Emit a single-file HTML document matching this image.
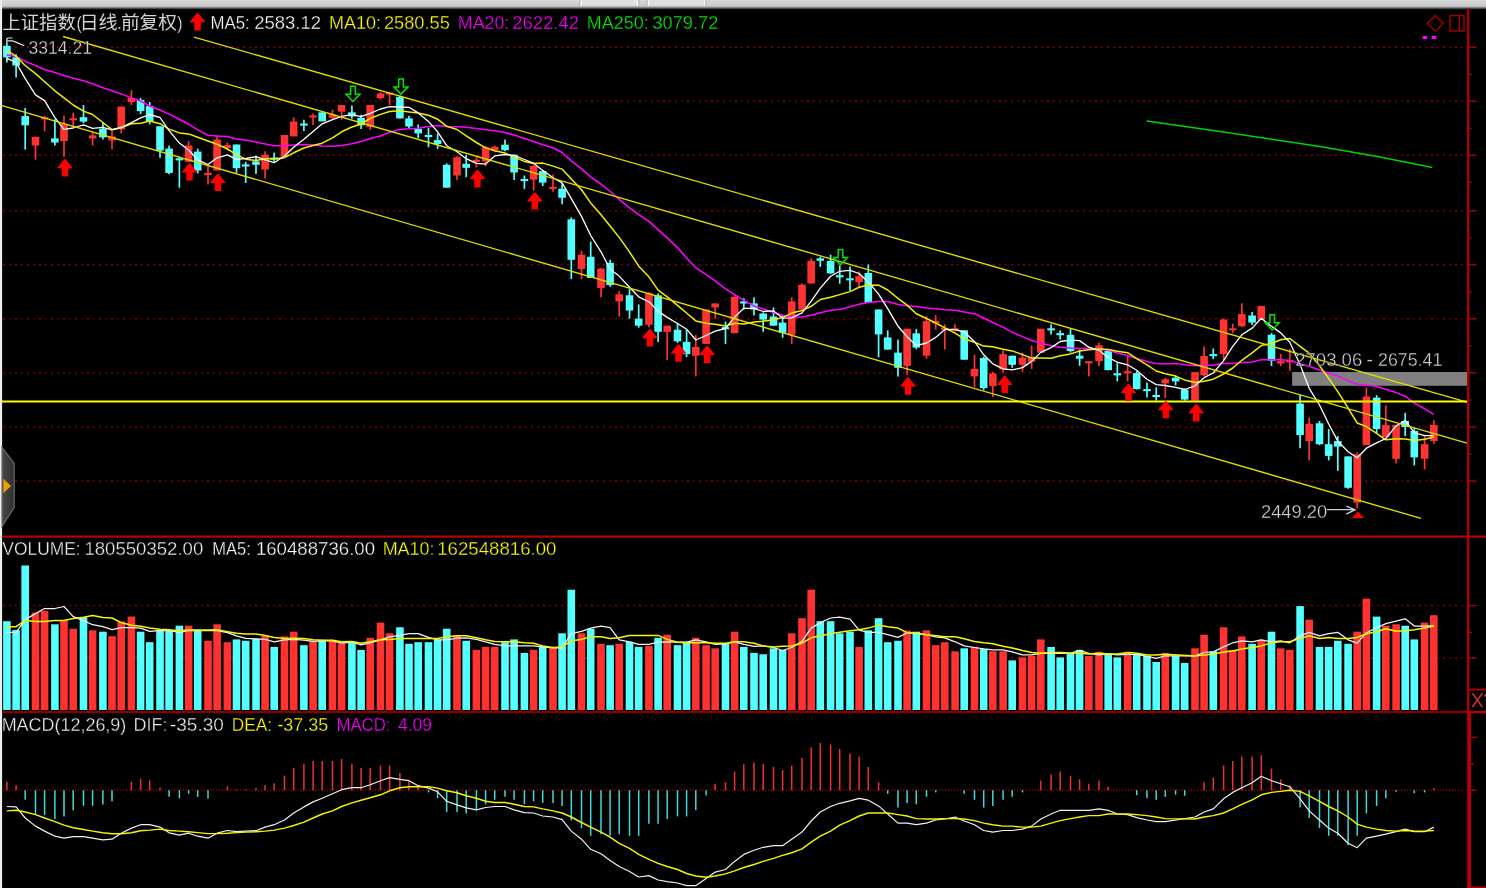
<!DOCTYPE html>
<html><head><meta charset="utf-8"><title>chart</title><style>html,body{margin:0;padding:0;background:#000;overflow:hidden}body{width:1486px;height:888px;position:relative;font-family:"Liberation Sans",sans-serif}</style></head><body>
<svg width="1486" height="888" viewBox="0 0 1486 888" style="display:block;position:absolute;left:0;top:0" font-family="Liberation Sans, sans-serif">
<rect width="1486" height="888" fill="#000"/>
<defs><linearGradient id="tg" x1="0" y1="0" x2="0" y2="1"><stop offset="0" stop-color="#d8d8d8"/><stop offset="0.5" stop-color="#cecece"/><stop offset="0.64" stop-color="#c0c0c0"/><stop offset="0.8" stop-color="#6a6a6a"/><stop offset="0.93" stop-color="#141414"/><stop offset="1" stop-color="#000"/></linearGradient><linearGradient id="tg2" x1="0" y1="0" x2="0" y2="1"><stop offset="0" stop-color="#cecece" stop-opacity="0"/><stop offset="0.25" stop-color="#c0c0c0"/><stop offset="0.58" stop-color="#6a6a6a"/><stop offset="0.85" stop-color="#141414"/><stop offset="1" stop-color="#000"/></linearGradient><linearGradient id="wg" x1="0" y1="0" x2="1" y2="0"><stop offset="0" stop-color="#4a4a4a"/><stop offset="1" stop-color="#2e2e2e"/></linearGradient></defs>
<rect x="0" y="0" width="1486" height="10" fill="url(#tg)"/>
<rect x="580.4" y="0" width="57.9" height="5.6" fill="#e0e0e0"/>
<rect x="579.1999999999999" y="0" width="1.2" height="5.8" fill="#b4b4b4"/><rect x="580.4" y="0" width="1.6" height="5.8" fill="#f6f6f6"/><rect x="636.6999999999999" y="0" width="1.6" height="5.8" fill="#f6f6f6"/><rect x="638.3" y="0" width="1.2" height="5.8" fill="#b8b8b8"/>
<rect x="647.7" y="0" width="57.8" height="5.6" fill="#e0e0e0"/>
<rect x="646.5" y="0" width="1.2" height="5.8" fill="#b4b4b4"/><rect x="647.7" y="0" width="1.6" height="5.8" fill="#f6f6f6"/><rect x="703.9" y="0" width="1.6" height="5.8" fill="#f6f6f6"/><rect x="705.5" y="0" width="1.2" height="5.8" fill="#b8b8b8"/>
<rect x="0" y="5.2" width="1486" height="4.8" fill="url(#tg2)"/>
<rect x="0" y="0" width="2.1" height="888" fill="#eeeeee"/>
<line x1="3.3" y1="47.2" x2="1464" y2="47.2" stroke="#b40000" stroke-width="1.5" stroke-dasharray="1.4 4.6"/>
<line x1="3.3" y1="101.2" x2="1464" y2="101.2" stroke="#b40000" stroke-width="1.5" stroke-dasharray="1.4 4.6"/>
<line x1="3.3" y1="155.3" x2="1464" y2="155.3" stroke="#b40000" stroke-width="1.5" stroke-dasharray="1.4 4.6"/>
<line x1="3.3" y1="210.8" x2="1464" y2="210.8" stroke="#b40000" stroke-width="1.5" stroke-dasharray="1.4 4.6"/>
<line x1="3.3" y1="264.8" x2="1464" y2="264.8" stroke="#b40000" stroke-width="1.5" stroke-dasharray="1.4 4.6"/>
<line x1="3.3" y1="318.8" x2="1464" y2="318.8" stroke="#b40000" stroke-width="1.5" stroke-dasharray="1.4 4.6"/>
<line x1="3.3" y1="372.9" x2="1464" y2="372.9" stroke="#b40000" stroke-width="1.5" stroke-dasharray="1.4 4.6"/>
<line x1="3.3" y1="427.0" x2="1464" y2="427.0" stroke="#b40000" stroke-width="1.5" stroke-dasharray="1.4 4.6"/>
<line x1="3.3" y1="481.0" x2="1464" y2="481.0" stroke="#b40000" stroke-width="1.5" stroke-dasharray="1.4 4.6"/>
<line x1="3.3" y1="605.5" x2="1464" y2="605.5" stroke="#b40000" stroke-width="1.5" stroke-dasharray="1.4 4.6"/>
<line x1="3.3" y1="658.0" x2="1464" y2="658.0" stroke="#b40000" stroke-width="1.5" stroke-dasharray="1.4 4.6"/>
<line x1="3" y1="790.2" x2="1464" y2="790.2" stroke="#b40000" stroke-width="1.3" stroke-dasharray="1.2 1.8"/>
<rect x="1292.1" y="372" width="175.2" height="13.8" fill="#808080"/>
<line x1="6.9" y1="42.8" x2="6.9" y2="62.4" stroke="#54ffff" stroke-width="1.7"/>
<rect x="3.1" y="45.8" width="7.6" height="11.6" fill="#54ffff"/>
<line x1="16.1" y1="54.3" x2="16.1" y2="77.6" stroke="#54ffff" stroke-width="1.7"/>
<rect x="12.3" y="57.4" width="7.6" height="8.1" fill="#54ffff"/>
<line x1="25.2" y1="108.0" x2="25.2" y2="149.6" stroke="#54ffff" stroke-width="1.7"/>
<rect x="21.4" y="116.1" width="7.6" height="9.2" fill="#54ffff"/>
<line x1="35.5" y1="136.8" x2="35.5" y2="159.7" stroke="#ff3232" stroke-width="1.7"/>
<rect x="31.7" y="136.8" width="7.6" height="8.7" fill="#ff3232"/>
<line x1="44.6" y1="116.1" x2="44.6" y2="131.4" stroke="#ff3232" stroke-width="1.7"/>
<rect x="40.8" y="117.2" width="7.6" height="2.1" fill="#ff3232"/>
<line x1="54.9" y1="119.2" x2="54.9" y2="145.5" stroke="#54ffff" stroke-width="1.7"/>
<rect x="51.1" y="138.4" width="7.6" height="4.1" fill="#54ffff"/>
<line x1="64.0" y1="115.7" x2="64.0" y2="156.7" stroke="#ff3232" stroke-width="1.7"/>
<rect x="60.2" y="123.9" width="7.6" height="17.2" fill="#ff3232"/>
<line x1="73.2" y1="112.7" x2="73.2" y2="126.3" stroke="#ff3232" stroke-width="1.7"/>
<rect x="69.4" y="118.2" width="7.6" height="2.1" fill="#ff3232"/>
<line x1="83.5" y1="105.0" x2="83.5" y2="123.2" stroke="#54ffff" stroke-width="1.7"/>
<rect x="79.7" y="117.2" width="7.6" height="4.4" fill="#54ffff"/>
<line x1="92.6" y1="132.4" x2="92.6" y2="145.5" stroke="#ff3232" stroke-width="1.7"/>
<rect x="88.8" y="135.4" width="7.6" height="3.0" fill="#ff3232"/>
<line x1="102.9" y1="122.2" x2="102.9" y2="139.5" stroke="#54ffff" stroke-width="1.7"/>
<rect x="99.1" y="128.7" width="7.6" height="8.7" fill="#54ffff"/>
<line x1="112.0" y1="130.3" x2="112.0" y2="149.6" stroke="#ff3232" stroke-width="1.7"/>
<rect x="108.2" y="136.4" width="7.6" height="4.1" fill="#ff3232"/>
<line x1="121.2" y1="106.6" x2="121.2" y2="133.4" stroke="#ff3232" stroke-width="1.7"/>
<rect x="117.4" y="106.6" width="7.6" height="22.7" fill="#ff3232"/>
<line x1="131.4" y1="90.2" x2="131.4" y2="105.0" stroke="#ff3232" stroke-width="1.7"/>
<rect x="127.6" y="97.9" width="7.6" height="4.1" fill="#ff3232"/>
<line x1="140.6" y1="97.9" x2="140.6" y2="114.1" stroke="#54ffff" stroke-width="1.7"/>
<rect x="136.8" y="99.9" width="7.6" height="11.2" fill="#54ffff"/>
<line x1="149.7" y1="102.0" x2="149.7" y2="124.3" stroke="#54ffff" stroke-width="1.7"/>
<rect x="145.9" y="106.0" width="7.6" height="15.2" fill="#54ffff"/>
<line x1="160.0" y1="126.3" x2="160.0" y2="157.7" stroke="#54ffff" stroke-width="1.7"/>
<rect x="156.2" y="126.3" width="7.6" height="24.3" fill="#54ffff"/>
<line x1="169.1" y1="145.5" x2="169.1" y2="174.3" stroke="#54ffff" stroke-width="1.7"/>
<rect x="165.3" y="148.6" width="7.6" height="24.3" fill="#54ffff"/>
<line x1="179.4" y1="156.7" x2="179.4" y2="187.7" stroke="#54ffff" stroke-width="1.7"/>
<rect x="175.6" y="158.3" width="7.6" height="2.1" fill="#54ffff"/>
<line x1="188.6" y1="141.1" x2="188.6" y2="161.8" stroke="#ff3232" stroke-width="1.7"/>
<rect x="184.8" y="145.5" width="7.6" height="16.3" fill="#ff3232"/>
<line x1="197.7" y1="148.6" x2="197.7" y2="173.5" stroke="#54ffff" stroke-width="1.7"/>
<rect x="193.9" y="151.6" width="7.6" height="18.9" fill="#54ffff"/>
<line x1="208.0" y1="164.8" x2="208.0" y2="184.5" stroke="#ff3232" stroke-width="1.7"/>
<rect x="204.2" y="172.9" width="7.6" height="2.1" fill="#ff3232"/>
<line x1="217.1" y1="135.4" x2="217.1" y2="170.5" stroke="#ff3232" stroke-width="1.7"/>
<rect x="213.3" y="139.5" width="7.6" height="31.0" fill="#ff3232"/>
<line x1="227.4" y1="142.5" x2="227.4" y2="149.6" stroke="#ff3232" stroke-width="1.7"/>
<rect x="223.6" y="145.1" width="7.6" height="2.9" fill="#ff3232"/>
<line x1="236.5" y1="144.5" x2="236.5" y2="172.9" stroke="#54ffff" stroke-width="1.7"/>
<rect x="232.7" y="144.5" width="7.6" height="23.7" fill="#54ffff"/>
<line x1="245.7" y1="161.8" x2="245.7" y2="183.0" stroke="#54ffff" stroke-width="1.7"/>
<rect x="241.9" y="164.4" width="7.6" height="2.1" fill="#54ffff"/>
<line x1="256.0" y1="155.7" x2="256.0" y2="173.9" stroke="#54ffff" stroke-width="1.7"/>
<rect x="252.2" y="161.4" width="7.6" height="3.4" fill="#54ffff"/>
<line x1="265.1" y1="151.2" x2="265.1" y2="178.6" stroke="#ff3232" stroke-width="1.7"/>
<rect x="261.3" y="154.7" width="7.6" height="14.8" fill="#ff3232"/>
<line x1="274.2" y1="152.6" x2="274.2" y2="161.8" stroke="#54ffff" stroke-width="1.7"/>
<rect x="270.4" y="157.6" width="7.6" height="2.1" fill="#54ffff"/>
<line x1="284.5" y1="135.0" x2="284.5" y2="156.7" stroke="#ff3232" stroke-width="1.7"/>
<rect x="280.7" y="135.0" width="7.6" height="21.7" fill="#ff3232"/>
<line x1="293.7" y1="117.2" x2="293.7" y2="136.4" stroke="#ff3232" stroke-width="1.7"/>
<rect x="289.9" y="121.6" width="7.6" height="14.8" fill="#ff3232"/>
<line x1="303.9" y1="119.8" x2="303.9" y2="130.9" stroke="#54ffff" stroke-width="1.7"/>
<rect x="300.1" y="123.5" width="7.6" height="2.1" fill="#54ffff"/>
<line x1="313.1" y1="113.7" x2="313.1" y2="124.9" stroke="#ff3232" stroke-width="1.7"/>
<rect x="309.3" y="115.4" width="7.6" height="2.1" fill="#ff3232"/>
<line x1="322.2" y1="112.3" x2="322.2" y2="121.4" stroke="#54ffff" stroke-width="1.7"/>
<rect x="318.4" y="112.3" width="7.6" height="9.1" fill="#54ffff"/>
<line x1="332.5" y1="109.7" x2="332.5" y2="118.8" stroke="#ff3232" stroke-width="1.7"/>
<rect x="328.7" y="114.7" width="7.6" height="3.1" fill="#ff3232"/>
<line x1="341.6" y1="105.0" x2="341.6" y2="119.8" stroke="#ff3232" stroke-width="1.7"/>
<rect x="337.8" y="105.0" width="7.6" height="6.7" fill="#ff3232"/>
<line x1="351.9" y1="105.6" x2="351.9" y2="118.8" stroke="#54ffff" stroke-width="1.7"/>
<rect x="348.1" y="112.3" width="7.6" height="4.1" fill="#54ffff"/>
<line x1="361.1" y1="114.7" x2="361.1" y2="128.9" stroke="#54ffff" stroke-width="1.7"/>
<rect x="357.3" y="117.8" width="7.6" height="7.5" fill="#54ffff"/>
<line x1="370.2" y1="105.0" x2="370.2" y2="129.9" stroke="#ff3232" stroke-width="1.7"/>
<rect x="366.4" y="105.0" width="7.6" height="21.9" fill="#ff3232"/>
<line x1="380.5" y1="92.4" x2="380.5" y2="99.5" stroke="#ff3232" stroke-width="1.7"/>
<rect x="376.7" y="93.4" width="7.6" height="4.7" fill="#ff3232"/>
<line x1="389.6" y1="92.4" x2="389.6" y2="105.0" stroke="#ff3232" stroke-width="1.7"/>
<rect x="385.8" y="92.5" width="7.6" height="2.1" fill="#ff3232"/>
<line x1="399.9" y1="95.5" x2="399.9" y2="118.4" stroke="#54ffff" stroke-width="1.7"/>
<rect x="396.1" y="96.9" width="7.6" height="21.5" fill="#54ffff"/>
<line x1="409.0" y1="115.7" x2="409.0" y2="127.9" stroke="#54ffff" stroke-width="1.7"/>
<rect x="405.2" y="118.4" width="7.6" height="8.1" fill="#54ffff"/>
<line x1="418.2" y1="124.5" x2="418.2" y2="138.0" stroke="#54ffff" stroke-width="1.7"/>
<rect x="414.4" y="128.9" width="7.6" height="4.5" fill="#54ffff"/>
<line x1="428.5" y1="127.9" x2="428.5" y2="147.2" stroke="#54ffff" stroke-width="1.7"/>
<rect x="424.7" y="135.0" width="7.6" height="2.1" fill="#54ffff"/>
<line x1="437.6" y1="133.4" x2="437.6" y2="148.8" stroke="#54ffff" stroke-width="1.7"/>
<rect x="433.8" y="140.1" width="7.6" height="4.0" fill="#54ffff"/>
<line x1="446.7" y1="163.4" x2="446.7" y2="187.7" stroke="#54ffff" stroke-width="1.7"/>
<rect x="442.9" y="164.8" width="7.6" height="22.9" fill="#54ffff"/>
<line x1="457.0" y1="156.3" x2="457.0" y2="180.0" stroke="#ff3232" stroke-width="1.7"/>
<rect x="453.2" y="157.3" width="7.6" height="18.2" fill="#ff3232"/>
<line x1="466.2" y1="154.9" x2="466.2" y2="177.2" stroke="#54ffff" stroke-width="1.7"/>
<rect x="462.4" y="163.8" width="7.6" height="4.0" fill="#54ffff"/>
<line x1="476.4" y1="157.3" x2="476.4" y2="167.4" stroke="#ff3232" stroke-width="1.7"/>
<rect x="472.6" y="159.8" width="7.6" height="2.1" fill="#ff3232"/>
<line x1="485.6" y1="146.1" x2="485.6" y2="166.4" stroke="#ff3232" stroke-width="1.7"/>
<rect x="481.8" y="147.2" width="7.6" height="14.2" fill="#ff3232"/>
<line x1="494.7" y1="145.5" x2="494.7" y2="152.2" stroke="#ff3232" stroke-width="1.7"/>
<rect x="490.9" y="146.8" width="7.6" height="3.4" fill="#ff3232"/>
<line x1="505.0" y1="139.5" x2="505.0" y2="151.2" stroke="#54ffff" stroke-width="1.7"/>
<rect x="501.2" y="144.7" width="7.6" height="5.5" fill="#54ffff"/>
<line x1="514.1" y1="154.7" x2="514.1" y2="180.0" stroke="#54ffff" stroke-width="1.7"/>
<rect x="510.3" y="154.7" width="7.6" height="17.8" fill="#54ffff"/>
<line x1="524.4" y1="175.5" x2="524.4" y2="189.1" stroke="#54ffff" stroke-width="1.7"/>
<rect x="520.6" y="179.0" width="7.6" height="2.1" fill="#54ffff"/>
<line x1="533.6" y1="165.0" x2="533.6" y2="190.7" stroke="#ff3232" stroke-width="1.7"/>
<rect x="529.8" y="166.0" width="7.6" height="13.6" fill="#ff3232"/>
<line x1="542.7" y1="171.1" x2="542.7" y2="186.1" stroke="#54ffff" stroke-width="1.7"/>
<rect x="538.9" y="171.1" width="7.6" height="11.5" fill="#54ffff"/>
<line x1="553.0" y1="174.5" x2="553.0" y2="191.8" stroke="#ff3232" stroke-width="1.7"/>
<rect x="549.2" y="186.8" width="7.6" height="2.1" fill="#ff3232"/>
<line x1="562.1" y1="183.6" x2="562.1" y2="204.3" stroke="#54ffff" stroke-width="1.7"/>
<rect x="558.3" y="188.7" width="7.6" height="9.1" fill="#54ffff"/>
<line x1="571.3" y1="217.4" x2="571.3" y2="279.1" stroke="#54ffff" stroke-width="1.7"/>
<rect x="567.5" y="219.3" width="7.6" height="40.5" fill="#54ffff"/>
<line x1="581.5" y1="250.7" x2="581.5" y2="279.1" stroke="#ff3232" stroke-width="1.7"/>
<rect x="577.7" y="254.7" width="7.6" height="14.2" fill="#ff3232"/>
<line x1="590.7" y1="241.6" x2="590.7" y2="278.0" stroke="#54ffff" stroke-width="1.7"/>
<rect x="586.9" y="256.8" width="7.6" height="21.2" fill="#54ffff"/>
<line x1="601.0" y1="268.5" x2="601.0" y2="297.3" stroke="#ff3232" stroke-width="1.7"/>
<rect x="597.2" y="268.5" width="7.6" height="19.7" fill="#ff3232"/>
<line x1="610.1" y1="259.8" x2="610.1" y2="286.8" stroke="#54ffff" stroke-width="1.7"/>
<rect x="606.3" y="262.8" width="7.6" height="22.3" fill="#54ffff"/>
<line x1="619.2" y1="291.2" x2="619.2" y2="316.6" stroke="#ff3232" stroke-width="1.7"/>
<rect x="615.4" y="294.3" width="7.6" height="7.1" fill="#ff3232"/>
<line x1="629.5" y1="289.2" x2="629.5" y2="318.6" stroke="#54ffff" stroke-width="1.7"/>
<rect x="625.7" y="295.3" width="7.6" height="15.2" fill="#54ffff"/>
<line x1="638.7" y1="304.4" x2="638.7" y2="327.7" stroke="#54ffff" stroke-width="1.7"/>
<rect x="634.9" y="318.6" width="7.6" height="7.1" fill="#54ffff"/>
<line x1="648.9" y1="292.2" x2="648.9" y2="327.3" stroke="#ff3232" stroke-width="1.7"/>
<rect x="645.1" y="293.2" width="7.6" height="31.5" fill="#ff3232"/>
<line x1="658.1" y1="293.2" x2="658.1" y2="341.9" stroke="#54ffff" stroke-width="1.7"/>
<rect x="654.3" y="295.3" width="7.6" height="36.5" fill="#54ffff"/>
<line x1="667.2" y1="325.7" x2="667.2" y2="360.1" stroke="#ff3232" stroke-width="1.7"/>
<rect x="663.4" y="325.7" width="7.6" height="6.1" fill="#ff3232"/>
<line x1="677.5" y1="323.6" x2="677.5" y2="342.9" stroke="#54ffff" stroke-width="1.7"/>
<rect x="673.7" y="329.7" width="7.6" height="11.6" fill="#54ffff"/>
<line x1="686.6" y1="329.7" x2="686.6" y2="357.1" stroke="#54ffff" stroke-width="1.7"/>
<rect x="682.8" y="341.9" width="7.6" height="12.2" fill="#54ffff"/>
<line x1="695.8" y1="334.8" x2="695.8" y2="376.4" stroke="#ff3232" stroke-width="1.7"/>
<rect x="692.0" y="347.0" width="7.6" height="8.7" fill="#ff3232"/>
<line x1="706.1" y1="309.5" x2="706.1" y2="343.9" stroke="#ff3232" stroke-width="1.7"/>
<rect x="702.3" y="309.5" width="7.6" height="34.4" fill="#ff3232"/>
<line x1="715.2" y1="303.4" x2="715.2" y2="318.6" stroke="#ff3232" stroke-width="1.7"/>
<rect x="711.4" y="303.4" width="7.6" height="4.0" fill="#ff3232"/>
<line x1="725.5" y1="321.6" x2="725.5" y2="343.9" stroke="#54ffff" stroke-width="1.7"/>
<rect x="721.7" y="327.1" width="7.6" height="2.1" fill="#54ffff"/>
<line x1="734.6" y1="295.3" x2="734.6" y2="333.2" stroke="#ff3232" stroke-width="1.7"/>
<rect x="730.8" y="296.9" width="7.6" height="36.3" fill="#ff3232"/>
<line x1="743.8" y1="298.3" x2="743.8" y2="309.5" stroke="#54ffff" stroke-width="1.7"/>
<rect x="740.0" y="301.4" width="7.6" height="2.1" fill="#54ffff"/>
<line x1="754.0" y1="297.3" x2="754.0" y2="315.5" stroke="#54ffff" stroke-width="1.7"/>
<rect x="750.2" y="303.4" width="7.6" height="6.1" fill="#54ffff"/>
<line x1="763.2" y1="312.5" x2="763.2" y2="331.8" stroke="#54ffff" stroke-width="1.7"/>
<rect x="759.4" y="313.5" width="7.6" height="6.1" fill="#54ffff"/>
<line x1="773.5" y1="307.4" x2="773.5" y2="325.7" stroke="#54ffff" stroke-width="1.7"/>
<rect x="769.7" y="316.6" width="7.6" height="9.1" fill="#54ffff"/>
<line x1="782.6" y1="315.5" x2="782.6" y2="337.8" stroke="#54ffff" stroke-width="1.7"/>
<rect x="778.8" y="322.6" width="7.6" height="10.2" fill="#54ffff"/>
<line x1="791.7" y1="297.3" x2="791.7" y2="343.9" stroke="#ff3232" stroke-width="1.7"/>
<rect x="787.9" y="301.4" width="7.6" height="33.4" fill="#ff3232"/>
<line x1="802.0" y1="283.5" x2="802.0" y2="309.5" stroke="#ff3232" stroke-width="1.7"/>
<rect x="798.2" y="284.7" width="7.6" height="24.8" fill="#ff3232"/>
<line x1="811.2" y1="258.4" x2="811.2" y2="283.5" stroke="#ff3232" stroke-width="1.7"/>
<rect x="807.4" y="260.8" width="7.6" height="22.7" fill="#ff3232"/>
<line x1="820.3" y1="256.8" x2="820.3" y2="266.9" stroke="#54ffff" stroke-width="1.7"/>
<rect x="816.5" y="258.4" width="7.6" height="2.4" fill="#54ffff"/>
<line x1="830.6" y1="254.7" x2="830.6" y2="274.0" stroke="#54ffff" stroke-width="1.7"/>
<rect x="826.8" y="260.8" width="7.6" height="12.6" fill="#54ffff"/>
<line x1="839.7" y1="265.5" x2="839.7" y2="283.7" stroke="#54ffff" stroke-width="1.7"/>
<rect x="835.9" y="275.2" width="7.6" height="2.1" fill="#54ffff"/>
<line x1="850.0" y1="266.5" x2="850.0" y2="290.8" stroke="#54ffff" stroke-width="1.7"/>
<rect x="846.2" y="278.3" width="7.6" height="2.1" fill="#54ffff"/>
<line x1="859.1" y1="271.6" x2="859.1" y2="287.8" stroke="#ff3232" stroke-width="1.7"/>
<rect x="855.3" y="276.2" width="7.6" height="6.1" fill="#ff3232"/>
<line x1="868.3" y1="264.5" x2="868.3" y2="303.0" stroke="#54ffff" stroke-width="1.7"/>
<rect x="864.5" y="273.0" width="7.6" height="30.0" fill="#54ffff"/>
<line x1="878.6" y1="309.5" x2="878.6" y2="357.3" stroke="#54ffff" stroke-width="1.7"/>
<rect x="874.8" y="309.5" width="7.6" height="24.9" fill="#54ffff"/>
<line x1="887.7" y1="330.3" x2="887.7" y2="349.6" stroke="#54ffff" stroke-width="1.7"/>
<rect x="883.9" y="337.4" width="7.6" height="12.2" fill="#54ffff"/>
<line x1="898.0" y1="339.5" x2="898.0" y2="376.4" stroke="#54ffff" stroke-width="1.7"/>
<rect x="894.2" y="352.6" width="7.6" height="15.2" fill="#54ffff"/>
<line x1="907.1" y1="328.7" x2="907.1" y2="374.9" stroke="#ff3232" stroke-width="1.7"/>
<rect x="903.3" y="328.7" width="7.6" height="37.1" fill="#ff3232"/>
<line x1="916.3" y1="328.9" x2="916.3" y2="349.2" stroke="#54ffff" stroke-width="1.7"/>
<rect x="912.5" y="333.4" width="7.6" height="14.2" fill="#54ffff"/>
<line x1="926.5" y1="316.1" x2="926.5" y2="358.7" stroke="#ff3232" stroke-width="1.7"/>
<rect x="922.7" y="321.2" width="7.6" height="34.5" fill="#ff3232"/>
<line x1="935.7" y1="315.1" x2="935.7" y2="329.7" stroke="#ff3232" stroke-width="1.7"/>
<rect x="931.9" y="321.2" width="7.6" height="2.1" fill="#ff3232"/>
<line x1="944.8" y1="324.3" x2="944.8" y2="349.6" stroke="#ff3232" stroke-width="1.7"/>
<rect x="941.0" y="327.8" width="7.6" height="2.1" fill="#ff3232"/>
<line x1="955.1" y1="324.3" x2="955.1" y2="331.4" stroke="#ff3232" stroke-width="1.7"/>
<rect x="951.3" y="328.3" width="7.6" height="2.1" fill="#ff3232"/>
<line x1="964.2" y1="330.3" x2="964.2" y2="359.7" stroke="#54ffff" stroke-width="1.7"/>
<rect x="960.4" y="330.3" width="7.6" height="29.4" fill="#54ffff"/>
<line x1="974.5" y1="354.7" x2="974.5" y2="387.1" stroke="#ff3232" stroke-width="1.7"/>
<rect x="970.7" y="368.9" width="7.6" height="7.5" fill="#ff3232"/>
<line x1="983.7" y1="356.7" x2="983.7" y2="390.1" stroke="#54ffff" stroke-width="1.7"/>
<rect x="979.9" y="358.1" width="7.6" height="30.0" fill="#54ffff"/>
<line x1="992.8" y1="371.9" x2="992.8" y2="397.2" stroke="#ff3232" stroke-width="1.7"/>
<rect x="989.0" y="373.5" width="7.6" height="12.6" fill="#ff3232"/>
<line x1="1003.1" y1="350.6" x2="1003.1" y2="372.9" stroke="#ff3232" stroke-width="1.7"/>
<rect x="999.3" y="354.1" width="7.6" height="15.4" fill="#ff3232"/>
<line x1="1012.2" y1="355.7" x2="1012.2" y2="367.8" stroke="#54ffff" stroke-width="1.7"/>
<rect x="1008.4" y="355.7" width="7.6" height="9.1" fill="#54ffff"/>
<line x1="1022.5" y1="352.6" x2="1022.5" y2="371.9" stroke="#ff3232" stroke-width="1.7"/>
<rect x="1018.7" y="357.7" width="7.6" height="7.1" fill="#ff3232"/>
<line x1="1031.6" y1="345.5" x2="1031.6" y2="368.9" stroke="#ff3232" stroke-width="1.7"/>
<rect x="1027.8" y="356.7" width="7.6" height="5.1" fill="#ff3232"/>
<line x1="1040.8" y1="328.7" x2="1040.8" y2="352.6" stroke="#ff3232" stroke-width="1.7"/>
<rect x="1037.0" y="328.7" width="7.6" height="23.9" fill="#ff3232"/>
<line x1="1051.1" y1="324.3" x2="1051.1" y2="334.4" stroke="#54ffff" stroke-width="1.7"/>
<rect x="1047.3" y="328.3" width="7.6" height="2.1" fill="#54ffff"/>
<line x1="1060.2" y1="330.3" x2="1060.2" y2="339.5" stroke="#54ffff" stroke-width="1.7"/>
<rect x="1056.4" y="333.1" width="7.6" height="2.1" fill="#54ffff"/>
<line x1="1070.5" y1="328.7" x2="1070.5" y2="352.6" stroke="#54ffff" stroke-width="1.7"/>
<rect x="1066.7" y="334.8" width="7.6" height="16.2" fill="#54ffff"/>
<line x1="1079.6" y1="349.6" x2="1079.6" y2="365.8" stroke="#54ffff" stroke-width="1.7"/>
<rect x="1075.8" y="355.7" width="7.6" height="3.0" fill="#54ffff"/>
<line x1="1088.8" y1="361.4" x2="1088.8" y2="376.4" stroke="#ff3232" stroke-width="1.7"/>
<rect x="1085.0" y="361.2" width="7.6" height="2.1" fill="#ff3232"/>
<line x1="1099.0" y1="342.8" x2="1099.0" y2="366.1" stroke="#ff3232" stroke-width="1.7"/>
<rect x="1095.2" y="345.3" width="7.6" height="15.8" fill="#ff3232"/>
<line x1="1108.2" y1="348.9" x2="1108.2" y2="370.2" stroke="#54ffff" stroke-width="1.7"/>
<rect x="1104.4" y="350.9" width="7.6" height="19.3" fill="#54ffff"/>
<line x1="1117.3" y1="363.1" x2="1117.3" y2="381.4" stroke="#54ffff" stroke-width="1.7"/>
<rect x="1113.5" y="373.3" width="7.6" height="2.1" fill="#54ffff"/>
<line x1="1127.6" y1="356.0" x2="1127.6" y2="381.4" stroke="#ff3232" stroke-width="1.7"/>
<rect x="1123.8" y="371.2" width="7.6" height="2.1" fill="#ff3232"/>
<line x1="1136.7" y1="371.2" x2="1136.7" y2="389.5" stroke="#54ffff" stroke-width="1.7"/>
<rect x="1132.9" y="373.2" width="7.6" height="15.9" fill="#54ffff"/>
<line x1="1147.0" y1="382.4" x2="1147.0" y2="397.6" stroke="#54ffff" stroke-width="1.7"/>
<rect x="1143.2" y="389.1" width="7.6" height="2.1" fill="#54ffff"/>
<line x1="1156.2" y1="387.4" x2="1156.2" y2="400.6" stroke="#54ffff" stroke-width="1.7"/>
<rect x="1152.4" y="395.0" width="7.6" height="2.1" fill="#54ffff"/>
<line x1="1165.3" y1="377.7" x2="1165.3" y2="398.0" stroke="#ff3232" stroke-width="1.7"/>
<rect x="1161.5" y="379.3" width="7.6" height="4.1" fill="#ff3232"/>
<line x1="1175.6" y1="375.3" x2="1175.6" y2="385.4" stroke="#54ffff" stroke-width="1.7"/>
<rect x="1171.8" y="377.7" width="7.6" height="3.7" fill="#54ffff"/>
<line x1="1184.7" y1="388.4" x2="1184.7" y2="400.6" stroke="#54ffff" stroke-width="1.7"/>
<rect x="1180.9" y="389.5" width="7.6" height="10.1" fill="#54ffff"/>
<line x1="1195.0" y1="372.2" x2="1195.0" y2="400.6" stroke="#ff3232" stroke-width="1.7"/>
<rect x="1191.2" y="372.2" width="7.6" height="28.4" fill="#ff3232"/>
<line x1="1204.1" y1="346.5" x2="1204.1" y2="376.3" stroke="#ff3232" stroke-width="1.7"/>
<rect x="1200.3" y="356.0" width="7.6" height="19.3" fill="#ff3232"/>
<line x1="1213.3" y1="348.5" x2="1213.3" y2="359.1" stroke="#54ffff" stroke-width="1.7"/>
<rect x="1209.5" y="354.1" width="7.6" height="2.1" fill="#54ffff"/>
<line x1="1223.6" y1="318.5" x2="1223.6" y2="360.1" stroke="#ff3232" stroke-width="1.7"/>
<rect x="1219.8" y="319.5" width="7.6" height="34.5" fill="#ff3232"/>
<line x1="1232.7" y1="323.6" x2="1232.7" y2="333.1" stroke="#ff3232" stroke-width="1.7"/>
<rect x="1228.9" y="328.3" width="7.6" height="2.1" fill="#ff3232"/>
<line x1="1241.8" y1="303.3" x2="1241.8" y2="327.0" stroke="#ff3232" stroke-width="1.7"/>
<rect x="1238.0" y="314.1" width="7.6" height="12.1" fill="#ff3232"/>
<line x1="1252.1" y1="312.0" x2="1252.1" y2="325.0" stroke="#54ffff" stroke-width="1.7"/>
<rect x="1248.3" y="315.5" width="7.6" height="7.1" fill="#54ffff"/>
<line x1="1261.3" y1="305.9" x2="1261.3" y2="319.5" stroke="#ff3232" stroke-width="1.7"/>
<rect x="1257.5" y="305.9" width="7.6" height="13.6" fill="#ff3232"/>
<line x1="1271.5" y1="333.1" x2="1271.5" y2="366.1" stroke="#54ffff" stroke-width="1.7"/>
<rect x="1267.7" y="334.7" width="7.6" height="26.0" fill="#54ffff"/>
<line x1="1280.7" y1="354.0" x2="1280.7" y2="366.1" stroke="#ff3232" stroke-width="1.7"/>
<rect x="1276.9" y="361.1" width="7.6" height="2.4" fill="#ff3232"/>
<line x1="1289.8" y1="348.9" x2="1289.8" y2="370.8" stroke="#ff3232" stroke-width="1.7"/>
<rect x="1286.0" y="360.1" width="7.6" height="2.1" fill="#ff3232"/>
<line x1="1300.1" y1="394.5" x2="1300.1" y2="448.2" stroke="#54ffff" stroke-width="1.7"/>
<rect x="1296.3" y="403.6" width="7.6" height="31.5" fill="#54ffff"/>
<line x1="1309.2" y1="417.4" x2="1309.2" y2="460.4" stroke="#ff3232" stroke-width="1.7"/>
<rect x="1305.4" y="423.9" width="7.6" height="17.2" fill="#ff3232"/>
<line x1="1319.5" y1="420.9" x2="1319.5" y2="445.2" stroke="#54ffff" stroke-width="1.7"/>
<rect x="1315.7" y="423.3" width="7.6" height="20.9" fill="#54ffff"/>
<line x1="1328.7" y1="429.0" x2="1328.7" y2="460.4" stroke="#54ffff" stroke-width="1.7"/>
<rect x="1324.9" y="444.2" width="7.6" height="11.7" fill="#54ffff"/>
<line x1="1337.8" y1="436.1" x2="1337.8" y2="470.9" stroke="#54ffff" stroke-width="1.7"/>
<rect x="1334.0" y="441.1" width="7.6" height="5.5" fill="#54ffff"/>
<line x1="1348.1" y1="456.4" x2="1348.1" y2="488.8" stroke="#54ffff" stroke-width="1.7"/>
<rect x="1344.3" y="456.4" width="7.6" height="31.4" fill="#54ffff"/>
<line x1="1357.2" y1="452.3" x2="1357.2" y2="508.6" stroke="#ff3232" stroke-width="1.7"/>
<rect x="1353.4" y="454.3" width="7.6" height="48.3" fill="#ff3232"/>
<line x1="1366.4" y1="387.4" x2="1366.4" y2="445.2" stroke="#ff3232" stroke-width="1.7"/>
<rect x="1362.6" y="396.6" width="7.6" height="48.6" fill="#ff3232"/>
<line x1="1376.6" y1="395.1" x2="1376.6" y2="433.0" stroke="#54ffff" stroke-width="1.7"/>
<rect x="1372.8" y="397.6" width="7.6" height="31.4" fill="#54ffff"/>
<line x1="1385.8" y1="405.3" x2="1385.8" y2="437.1" stroke="#ff3232" stroke-width="1.7"/>
<rect x="1382.0" y="424.9" width="7.6" height="12.2" fill="#ff3232"/>
<line x1="1396.1" y1="424.9" x2="1396.1" y2="463.4" stroke="#ff3232" stroke-width="1.7"/>
<rect x="1392.3" y="424.9" width="7.6" height="33.9" fill="#ff3232"/>
<line x1="1405.2" y1="412.8" x2="1405.2" y2="436.1" stroke="#54ffff" stroke-width="1.7"/>
<rect x="1401.4" y="420.9" width="7.6" height="6.1" fill="#54ffff"/>
<line x1="1414.3" y1="428.0" x2="1414.3" y2="465.5" stroke="#54ffff" stroke-width="1.7"/>
<rect x="1410.5" y="431.0" width="7.6" height="26.4" fill="#54ffff"/>
<line x1="1424.6" y1="435.1" x2="1424.6" y2="469.5" stroke="#ff3232" stroke-width="1.7"/>
<rect x="1420.8" y="444.2" width="7.6" height="14.6" fill="#ff3232"/>
<line x1="1433.8" y1="420.3" x2="1433.8" y2="443.8" stroke="#ff3232" stroke-width="1.7"/>
<rect x="1430.0" y="424.9" width="7.6" height="16.2" fill="#ff3232"/>
<polyline fill="none" stroke="#ff00ff" stroke-width="1.55" stroke-linejoin="round" points="6.9,54.9 16.1,56.4 25.2,61.4 35.5,65.5 44.6,69.5 54.9,72.6 64.0,75.6 73.2,78.2 83.5,80.7 92.6,83.7 102.9,87.8 112.0,90.8 121.2,93.9 131.4,97.9 140.6,101.0 149.7,106.0 160.0,110.0 169.1,114.1 179.4,119.2 188.6,124.2 197.7,129.9 208.0,135.3 217.1,136.0 227.4,136.4 236.5,138.9 245.7,140.1 256.0,142.1 265.1,143.9 274.2,145.8 284.5,145.8 293.7,145.0 303.9,144.5 313.1,144.9 322.2,146.1 332.5,146.3 341.6,145.5 351.9,143.8 361.1,141.4 370.2,138.6 380.5,136.0 389.6,132.2 399.9,129.4 409.0,128.8 418.2,128.2 428.5,126.6 437.6,125.5 446.7,126.6 457.0,126.8 466.2,127.2 476.4,128.4 485.6,129.7 494.7,130.8 505.0,132.5 514.1,135.1 524.4,138.4 533.6,141.4 542.7,144.7 553.0,147.8 562.1,152.5 571.3,160.8 581.5,168.9 590.7,176.9 601.0,184.0 610.1,191.5 619.2,199.4 629.5,207.8 638.7,214.7 648.9,221.4 658.1,229.6 667.2,237.9 677.5,247.6 686.6,258.0 695.8,267.8 706.1,274.7 715.2,280.8 725.5,288.9 734.6,294.7 743.8,300.4 754.0,306.0 763.2,309.0 773.5,312.6 782.6,315.3 791.7,317.0 802.0,316.9 811.2,315.3 820.3,312.8 830.6,310.2 839.7,309.4 850.0,306.8 859.1,304.3 868.3,302.4 878.6,301.4 887.7,301.5 898.0,304.4 907.1,305.7 916.3,306.6 926.5,307.9 935.7,308.8 944.8,309.7 955.1,310.2 964.2,311.9 974.5,313.7 983.7,318.0 992.8,322.5 1003.1,327.1 1012.2,332.3 1022.5,336.6 1031.6,340.5 1040.8,343.0 1051.1,345.7 1060.2,347.2 1070.5,348.1 1079.6,348.5 1088.8,348.2 1099.0,349.1 1108.2,350.2 1117.3,352.9 1127.6,355.4 1136.7,358.4 1147.0,361.5 1156.2,363.4 1165.3,363.9 1175.6,363.5 1184.7,364.8 1195.0,365.8 1204.1,365.3 1213.3,365.2 1223.6,363.3 1232.7,363.4 1241.8,362.6 1252.1,362.0 1261.3,359.7 1271.5,359.8 1280.7,359.8 1289.8,360.5 1300.1,363.8 1309.2,366.2 1319.5,369.9 1328.7,373.2 1337.8,376.0 1348.1,380.6 1357.2,384.3 1366.4,385.1 1376.6,386.5 1385.8,389.2 1396.1,392.6 1405.2,396.2 1414.3,403.1 1424.6,408.8 1433.8,414.4"/>
<polyline fill="none" stroke="#f0f000" stroke-width="1.5" stroke-linejoin="round" points="6.9,50.3 16.1,56.4 25.2,65.5 35.5,73.6 44.6,81.7 54.9,90.8 64.0,97.9 73.2,105.0 83.5,111.1 92.6,114.5 102.9,122.5 112.0,129.6 121.2,127.7 131.4,123.8 140.6,123.2 149.7,121.0 160.0,123.7 169.1,129.1 179.4,132.9 188.6,133.9 197.7,137.3 208.0,141.0 217.1,144.3 227.4,149.0 236.5,154.7 245.7,159.2 256.0,160.6 265.1,158.8 274.2,158.8 284.5,157.7 293.7,152.8 303.9,148.0 313.1,145.6 322.2,143.2 332.5,137.9 341.6,131.8 351.9,127.0 361.1,124.0 370.2,118.5 380.5,114.4 389.6,111.5 399.9,110.8 409.0,111.9 418.2,113.1 428.5,115.3 437.6,119.2 446.7,126.3 457.0,129.5 466.2,135.8 476.4,142.5 485.6,147.9 494.7,150.8 505.0,153.1 514.1,157.1 524.4,161.4 533.6,163.6 542.7,163.1 553.0,166.1 562.1,169.1 571.3,179.1 581.5,189.8 590.7,202.9 601.0,214.8 610.1,226.0 619.2,237.4 629.5,251.9 638.7,266.2 648.9,276.8 658.1,290.2 667.2,296.8 677.5,305.4 686.6,313.0 695.8,320.9 706.1,323.3 715.2,324.2 725.5,326.0 734.6,323.2 743.8,324.1 754.0,321.9 763.2,321.3 773.5,319.7 782.6,317.6 791.7,313.1 802.0,310.6 811.2,306.3 820.3,299.5 830.6,297.2 839.7,294.6 850.0,291.6 859.1,287.3 868.3,285.0 878.6,285.2 887.7,290.0 898.0,298.3 907.1,305.1 916.3,313.8 926.5,318.5 935.7,323.0 944.8,327.9 955.1,333.1 964.2,338.8 974.5,342.2 983.7,346.1 992.8,346.7 1003.1,349.2 1012.2,350.9 1022.5,354.6 1031.6,358.1 1040.8,358.1 1051.1,358.2 1060.2,355.7 1070.5,353.9 1079.6,351.0 1088.8,349.8 1099.0,348.9 1108.2,349.5 1117.3,351.2 1127.6,352.7 1136.7,358.7 1147.0,364.8 1156.2,371.0 1165.3,373.8 1175.6,376.1 1184.7,379.9 1195.0,382.6 1204.1,381.2 1213.3,379.2 1223.6,374.0 1232.7,368.0 1241.8,360.3 1252.1,352.9 1261.3,345.6 1271.5,343.5 1280.7,339.7 1289.8,338.5 1300.1,346.4 1309.2,353.2 1319.5,365.7 1328.7,378.4 1337.8,391.7 1348.1,408.2 1357.2,423.0 1366.4,426.6 1376.6,433.4 1385.8,439.8 1396.1,438.8 1405.2,439.1 1414.3,440.4 1424.6,439.3 1433.8,437.1"/>
<polyline fill="none" stroke="#ffffff" stroke-width="1.3" stroke-linejoin="round" points="6.9,58.4 16.1,62.4 25.2,78.6 35.5,94.9 44.6,100.6 54.9,117.6 64.0,129.3 73.2,128.0 83.5,124.9 92.6,128.4 102.9,127.4 112.0,129.9 121.2,127.5 131.4,122.7 140.6,117.9 149.7,114.6 160.0,117.5 169.1,130.7 179.4,143.1 188.6,150.0 197.7,159.9 208.0,164.5 217.1,157.8 227.4,154.8 236.5,159.4 245.7,158.5 256.0,156.7 265.1,159.8 274.2,162.7 284.5,156.0 293.7,147.2 303.9,139.2 313.1,131.5 322.2,123.8 332.5,119.7 341.6,116.4 351.9,114.7 361.1,116.6 370.2,113.3 380.5,109.0 389.6,106.6 399.9,107.0 409.0,107.3 418.2,112.9 428.5,121.6 437.6,131.8 446.7,145.7 457.0,151.8 466.2,158.7 476.4,163.4 485.6,164.1 494.7,155.9 505.0,154.5 514.1,155.4 524.4,159.5 533.6,163.2 542.7,170.4 553.0,177.8 562.1,182.9 571.3,198.7 581.5,216.4 590.7,235.5 601.0,251.8 610.1,269.2 619.2,276.1 629.5,287.3 638.7,296.8 648.9,301.8 658.1,311.1 667.2,317.4 677.5,323.5 686.6,329.2 695.8,340.0 706.1,335.5 715.2,331.1 725.5,328.5 734.6,317.1 743.8,308.3 754.0,308.3 763.2,311.5 773.5,310.9 782.6,318.1 791.7,317.8 802.0,312.8 811.2,301.1 820.3,288.1 830.6,276.2 839.7,271.3 850.0,270.4 859.1,273.5 868.3,281.9 878.6,294.1 887.7,308.6 898.0,326.2 907.1,336.7 916.3,345.6 926.5,343.0 935.7,337.4 944.8,329.5 955.1,329.6 964.2,332.0 974.5,341.5 983.7,354.8 992.8,363.8 1003.1,368.9 1012.2,369.9 1022.5,367.6 1031.6,361.4 1040.8,352.4 1051.1,347.6 1060.2,341.5 1070.5,340.2 1079.6,340.6 1088.8,347.2 1099.0,350.3 1108.2,357.4 1117.3,362.2 1127.6,364.8 1136.7,370.3 1147.0,379.3 1156.2,384.6 1165.3,385.5 1175.6,387.4 1184.7,389.5 1195.0,385.8 1204.1,377.7 1213.3,373.0 1223.6,360.6 1232.7,346.4 1241.8,334.8 1252.1,328.1 1261.3,318.2 1271.5,326.4 1280.7,332.9 1289.8,342.2 1300.1,364.7 1309.2,388.3 1319.5,405.0 1328.7,424.0 1337.8,441.1 1348.1,451.7 1357.2,457.8 1366.4,448.2 1376.6,442.9 1385.8,438.5 1396.1,425.9 1405.2,420.5 1414.3,432.6 1424.6,435.7 1433.8,435.7"/>
<polyline fill="none" stroke="#00d400" stroke-width="1.5" stroke-linejoin="round" points="1146.5,120.9 1220.0,131.6 1320.0,146.4 1380.0,157.0 1432.3,167.4"/>
<line x1="63.1" y1="36.5" x2="1467" y2="443.2" stroke="#dede00" stroke-width="1.35"/>
<line x1="194" y1="37.1" x2="1467" y2="402.2" stroke="#dede00" stroke-width="1.35"/>
<line x1="2" y1="105.6" x2="1421" y2="518.4" stroke="#dede00" stroke-width="1.35"/>
<line x1="2" y1="401.5" x2="1467.5" y2="401.5" stroke="#ffff00" stroke-width="2.0"/>
<rect x="3.1" y="621.2" width="7.6" height="88.8" fill="#54ffff"/>
<rect x="12.3" y="630.1" width="7.6" height="79.9" fill="#54ffff"/>
<rect x="21.4" y="565.5" width="7.6" height="144.5" fill="#54ffff"/>
<rect x="31.7" y="612.5" width="7.6" height="97.5" fill="#ff3232"/>
<rect x="40.8" y="610.9" width="7.6" height="99.1" fill="#ff3232"/>
<rect x="51.1" y="624.3" width="7.6" height="85.7" fill="#54ffff"/>
<rect x="60.2" y="620.6" width="7.6" height="89.4" fill="#ff3232"/>
<rect x="69.4" y="628.7" width="7.6" height="81.3" fill="#ff3232"/>
<rect x="79.7" y="617.2" width="7.6" height="92.8" fill="#54ffff"/>
<rect x="88.8" y="630.3" width="7.6" height="79.7" fill="#ff3232"/>
<rect x="99.1" y="631.7" width="7.6" height="78.3" fill="#54ffff"/>
<rect x="108.2" y="636.2" width="7.6" height="73.8" fill="#ff3232"/>
<rect x="117.4" y="621.6" width="7.6" height="88.4" fill="#ff3232"/>
<rect x="127.6" y="616.6" width="7.6" height="93.4" fill="#ff3232"/>
<rect x="136.8" y="631.7" width="7.6" height="78.3" fill="#54ffff"/>
<rect x="145.9" y="642.2" width="7.6" height="67.8" fill="#54ffff"/>
<rect x="156.2" y="629.7" width="7.6" height="80.3" fill="#54ffff"/>
<rect x="165.3" y="630.7" width="7.6" height="79.3" fill="#54ffff"/>
<rect x="175.6" y="625.7" width="7.6" height="84.3" fill="#54ffff"/>
<rect x="184.8" y="625.7" width="7.6" height="84.3" fill="#ff3232"/>
<rect x="193.9" y="629.7" width="7.6" height="80.3" fill="#54ffff"/>
<rect x="204.2" y="640.8" width="7.6" height="69.2" fill="#ff3232"/>
<rect x="213.3" y="624.3" width="7.6" height="85.7" fill="#ff3232"/>
<rect x="223.6" y="642.2" width="7.6" height="67.8" fill="#ff3232"/>
<rect x="232.7" y="639.4" width="7.6" height="70.6" fill="#54ffff"/>
<rect x="241.9" y="640.8" width="7.6" height="69.2" fill="#54ffff"/>
<rect x="252.2" y="638.8" width="7.6" height="71.2" fill="#54ffff"/>
<rect x="261.3" y="635.8" width="7.6" height="74.2" fill="#ff3232"/>
<rect x="270.4" y="646.9" width="7.6" height="63.1" fill="#54ffff"/>
<rect x="280.7" y="636.4" width="7.6" height="73.6" fill="#ff3232"/>
<rect x="289.9" y="631.7" width="7.6" height="78.3" fill="#ff3232"/>
<rect x="300.1" y="645.2" width="7.6" height="64.8" fill="#54ffff"/>
<rect x="309.3" y="640.8" width="7.6" height="69.2" fill="#ff3232"/>
<rect x="318.4" y="639.8" width="7.6" height="70.2" fill="#54ffff"/>
<rect x="328.7" y="639.8" width="7.6" height="70.2" fill="#ff3232"/>
<rect x="337.8" y="643.2" width="7.6" height="66.8" fill="#ff3232"/>
<rect x="348.1" y="641.8" width="7.6" height="68.2" fill="#54ffff"/>
<rect x="357.3" y="649.9" width="7.6" height="60.1" fill="#54ffff"/>
<rect x="366.4" y="637.8" width="7.6" height="72.2" fill="#ff3232"/>
<rect x="376.7" y="622.6" width="7.6" height="87.4" fill="#ff3232"/>
<rect x="385.8" y="633.3" width="7.6" height="76.7" fill="#ff3232"/>
<rect x="396.1" y="627.3" width="7.6" height="82.7" fill="#54ffff"/>
<rect x="405.2" y="643.8" width="7.6" height="66.2" fill="#54ffff"/>
<rect x="414.4" y="642.2" width="7.6" height="67.8" fill="#54ffff"/>
<rect x="424.7" y="642.2" width="7.6" height="67.8" fill="#54ffff"/>
<rect x="433.8" y="639.8" width="7.6" height="70.2" fill="#54ffff"/>
<rect x="442.9" y="628.7" width="7.6" height="81.3" fill="#54ffff"/>
<rect x="453.2" y="635.4" width="7.6" height="74.6" fill="#ff3232"/>
<rect x="462.4" y="640.8" width="7.6" height="69.2" fill="#54ffff"/>
<rect x="472.6" y="649.9" width="7.6" height="60.1" fill="#ff3232"/>
<rect x="481.8" y="646.9" width="7.6" height="63.1" fill="#ff3232"/>
<rect x="490.9" y="646.9" width="7.6" height="63.1" fill="#ff3232"/>
<rect x="501.2" y="642.2" width="7.6" height="67.8" fill="#54ffff"/>
<rect x="510.3" y="639.4" width="7.6" height="70.6" fill="#54ffff"/>
<rect x="520.6" y="652.9" width="7.6" height="57.1" fill="#54ffff"/>
<rect x="529.8" y="649.9" width="7.6" height="60.1" fill="#ff3232"/>
<rect x="538.9" y="645.9" width="7.6" height="64.1" fill="#54ffff"/>
<rect x="549.2" y="647.9" width="7.6" height="62.1" fill="#ff3232"/>
<rect x="558.3" y="633.3" width="7.6" height="76.7" fill="#54ffff"/>
<rect x="567.5" y="589.7" width="7.6" height="120.3" fill="#54ffff"/>
<rect x="577.7" y="633.3" width="7.6" height="76.7" fill="#ff3232"/>
<rect x="586.9" y="628.7" width="7.6" height="81.3" fill="#54ffff"/>
<rect x="597.2" y="643.8" width="7.6" height="66.2" fill="#ff3232"/>
<rect x="606.3" y="645.2" width="7.6" height="64.8" fill="#54ffff"/>
<rect x="615.4" y="643.8" width="7.6" height="66.2" fill="#ff3232"/>
<rect x="625.7" y="641.8" width="7.6" height="68.2" fill="#54ffff"/>
<rect x="634.9" y="646.9" width="7.6" height="63.1" fill="#54ffff"/>
<rect x="645.1" y="645.9" width="7.6" height="64.1" fill="#ff3232"/>
<rect x="654.3" y="637.8" width="7.6" height="72.2" fill="#54ffff"/>
<rect x="663.4" y="634.7" width="7.6" height="75.3" fill="#ff3232"/>
<rect x="673.7" y="645.2" width="7.6" height="64.8" fill="#54ffff"/>
<rect x="682.8" y="641.8" width="7.6" height="68.2" fill="#54ffff"/>
<rect x="692.0" y="637.8" width="7.6" height="72.2" fill="#ff3232"/>
<rect x="702.3" y="645.2" width="7.6" height="64.8" fill="#ff3232"/>
<rect x="711.4" y="648.3" width="7.6" height="61.7" fill="#ff3232"/>
<rect x="721.7" y="643.8" width="7.6" height="66.2" fill="#54ffff"/>
<rect x="730.8" y="631.7" width="7.6" height="78.3" fill="#ff3232"/>
<rect x="740.0" y="646.9" width="7.6" height="63.1" fill="#54ffff"/>
<rect x="750.2" y="652.9" width="7.6" height="57.1" fill="#54ffff"/>
<rect x="759.4" y="654.3" width="7.6" height="55.7" fill="#54ffff"/>
<rect x="769.7" y="648.3" width="7.6" height="61.7" fill="#54ffff"/>
<rect x="778.8" y="649.9" width="7.6" height="60.1" fill="#54ffff"/>
<rect x="787.9" y="633.3" width="7.6" height="76.7" fill="#ff3232"/>
<rect x="798.2" y="618.2" width="7.6" height="91.8" fill="#ff3232"/>
<rect x="807.4" y="589.7" width="7.6" height="120.3" fill="#ff3232"/>
<rect x="816.5" y="621.2" width="7.6" height="88.8" fill="#54ffff"/>
<rect x="826.8" y="621.2" width="7.6" height="88.8" fill="#54ffff"/>
<rect x="835.9" y="633.3" width="7.6" height="76.7" fill="#54ffff"/>
<rect x="846.2" y="631.7" width="7.6" height="78.3" fill="#54ffff"/>
<rect x="855.3" y="646.9" width="7.6" height="63.1" fill="#ff3232"/>
<rect x="864.5" y="630.3" width="7.6" height="79.7" fill="#54ffff"/>
<rect x="874.8" y="618.2" width="7.6" height="91.8" fill="#54ffff"/>
<rect x="883.9" y="642.2" width="7.6" height="67.8" fill="#54ffff"/>
<rect x="894.2" y="640.8" width="7.6" height="69.2" fill="#54ffff"/>
<rect x="903.3" y="630.7" width="7.6" height="79.3" fill="#ff3232"/>
<rect x="912.5" y="631.7" width="7.6" height="78.3" fill="#54ffff"/>
<rect x="922.7" y="630.3" width="7.6" height="79.7" fill="#ff3232"/>
<rect x="931.9" y="645.2" width="7.6" height="64.8" fill="#ff3232"/>
<rect x="941.0" y="642.2" width="7.6" height="67.8" fill="#ff3232"/>
<rect x="951.3" y="651.3" width="7.6" height="58.7" fill="#ff3232"/>
<rect x="960.4" y="648.3" width="7.6" height="61.7" fill="#54ffff"/>
<rect x="970.7" y="646.9" width="7.6" height="63.1" fill="#ff3232"/>
<rect x="979.9" y="648.9" width="7.6" height="61.1" fill="#54ffff"/>
<rect x="989.0" y="651.3" width="7.6" height="58.7" fill="#ff3232"/>
<rect x="999.3" y="651.3" width="7.6" height="58.7" fill="#ff3232"/>
<rect x="1008.4" y="660.4" width="7.6" height="49.6" fill="#54ffff"/>
<rect x="1018.7" y="657.4" width="7.6" height="52.6" fill="#ff3232"/>
<rect x="1027.8" y="655.9" width="7.6" height="54.1" fill="#ff3232"/>
<rect x="1037.0" y="639.4" width="7.6" height="70.6" fill="#ff3232"/>
<rect x="1047.3" y="646.9" width="7.6" height="63.1" fill="#54ffff"/>
<rect x="1056.4" y="657.4" width="7.6" height="52.6" fill="#54ffff"/>
<rect x="1066.7" y="652.9" width="7.6" height="57.1" fill="#54ffff"/>
<rect x="1075.8" y="649.9" width="7.6" height="60.1" fill="#54ffff"/>
<rect x="1085.0" y="655.9" width="7.6" height="54.1" fill="#ff3232"/>
<rect x="1095.2" y="651.9" width="7.6" height="58.1" fill="#ff3232"/>
<rect x="1104.4" y="653.9" width="7.6" height="56.1" fill="#54ffff"/>
<rect x="1113.5" y="657.4" width="7.6" height="52.6" fill="#54ffff"/>
<rect x="1123.8" y="651.9" width="7.6" height="58.1" fill="#ff3232"/>
<rect x="1132.9" y="654.3" width="7.6" height="55.7" fill="#54ffff"/>
<rect x="1143.2" y="655.9" width="7.6" height="54.1" fill="#54ffff"/>
<rect x="1152.4" y="662.0" width="7.6" height="48.0" fill="#54ffff"/>
<rect x="1161.5" y="652.9" width="7.6" height="57.1" fill="#ff3232"/>
<rect x="1171.8" y="655.9" width="7.6" height="54.1" fill="#54ffff"/>
<rect x="1180.9" y="663.0" width="7.6" height="47.0" fill="#54ffff"/>
<rect x="1191.2" y="648.3" width="7.6" height="61.7" fill="#ff3232"/>
<rect x="1200.3" y="634.7" width="7.6" height="75.3" fill="#ff3232"/>
<rect x="1209.5" y="651.3" width="7.6" height="58.7" fill="#54ffff"/>
<rect x="1219.8" y="627.3" width="7.6" height="82.7" fill="#ff3232"/>
<rect x="1228.9" y="649.9" width="7.6" height="60.1" fill="#ff3232"/>
<rect x="1238.0" y="636.4" width="7.6" height="73.6" fill="#ff3232"/>
<rect x="1248.3" y="643.8" width="7.6" height="66.2" fill="#54ffff"/>
<rect x="1257.5" y="639.8" width="7.6" height="70.2" fill="#ff3232"/>
<rect x="1267.7" y="631.7" width="7.6" height="78.3" fill="#54ffff"/>
<rect x="1276.9" y="648.3" width="7.6" height="61.7" fill="#ff3232"/>
<rect x="1286.0" y="649.9" width="7.6" height="60.1" fill="#ff3232"/>
<rect x="1296.3" y="606.1" width="7.6" height="103.9" fill="#54ffff"/>
<rect x="1305.4" y="619.6" width="7.6" height="90.4" fill="#ff3232"/>
<rect x="1315.7" y="646.9" width="7.6" height="63.1" fill="#54ffff"/>
<rect x="1324.9" y="646.9" width="7.6" height="63.1" fill="#54ffff"/>
<rect x="1334.0" y="640.8" width="7.6" height="69.2" fill="#54ffff"/>
<rect x="1344.3" y="643.8" width="7.6" height="66.2" fill="#54ffff"/>
<rect x="1353.4" y="631.7" width="7.6" height="78.3" fill="#ff3232"/>
<rect x="1362.6" y="598.6" width="7.6" height="111.4" fill="#ff3232"/>
<rect x="1372.8" y="616.6" width="7.6" height="93.4" fill="#54ffff"/>
<rect x="1382.0" y="625.7" width="7.6" height="84.3" fill="#ff3232"/>
<rect x="1392.3" y="624.3" width="7.6" height="85.7" fill="#ff3232"/>
<rect x="1401.4" y="625.7" width="7.6" height="84.3" fill="#54ffff"/>
<rect x="1410.5" y="639.4" width="7.6" height="70.6" fill="#54ffff"/>
<rect x="1420.8" y="622.6" width="7.6" height="87.4" fill="#ff3232"/>
<rect x="1430.0" y="615.2" width="7.6" height="94.8" fill="#ff3232"/>
<polyline fill="none" stroke="#f4f4f4" stroke-width="1.25" stroke-linejoin="round" points="6.9,632.3 16.1,632.3 25.2,619.6 35.5,613.6 44.6,608.5 54.9,608.5 64.0,606.5 73.2,616.6 83.5,620.6 92.6,624.7 102.9,626.7 112.0,629.7 121.2,627.7 131.4,627.7 140.6,628.1 149.7,631.3 160.0,630.7 169.1,630.7 179.4,632.3 188.6,630.7 197.7,630.7 208.0,630.7 217.1,630.7 227.4,632.7 236.5,635.8 245.7,638.4 256.0,638.8 265.1,639.4 274.2,641.8 284.5,639.8 293.7,639.4 303.9,640.2 313.1,641.4 322.2,640.8 332.5,640.8 341.6,643.2 351.9,642.2 361.1,644.8 370.2,642.8 380.5,639.8 389.6,636.8 399.9,635.4 409.0,633.7 418.2,633.7 428.5,637.4 437.6,639.8 446.7,639.8 457.0,638.2 466.2,637.8 476.4,639.4 485.6,641.8 494.7,644.4 505.0,645.9 514.1,645.9 524.4,645.9 533.6,645.9 542.7,646.9 553.0,647.9 562.1,647.9 571.3,633.7 581.5,631.3 590.7,628.1 601.0,626.1 610.1,627.7 619.2,639.8 629.5,641.8 638.7,644.4 648.9,644.4 658.1,642.2 667.2,641.8 677.5,642.2 686.6,642.2 695.8,639.8 706.1,641.8 715.2,644.4 725.5,643.8 734.6,641.8 743.8,644.4 754.0,646.3 763.2,645.9 773.5,647.5 782.6,650.5 791.7,647.5 802.0,641.4 811.2,628.1 820.3,622.6 830.6,618.0 839.7,617.2 850.0,619.2 859.1,630.1 868.3,632.3 878.6,632.3 887.7,634.7 898.0,637.4 907.1,632.7 916.3,633.7 926.5,634.7 935.7,636.8 944.8,637.8 955.1,641.8 964.2,645.9 974.5,647.5 983.7,648.9 992.8,649.9 1003.1,649.9 1012.2,651.9 1022.5,654.9 1031.6,654.9 1040.8,653.3 1051.1,653.3 1060.2,653.3 1070.5,653.3 1079.6,650.3 1088.8,653.3 1099.0,654.9 1108.2,653.9 1117.3,654.9 1127.6,654.3 1136.7,654.3 1147.0,656.4 1156.2,658.4 1165.3,655.9 1195.0,655.9 1204.1,652.5 1213.3,651.9 1223.6,646.9 1232.7,642.8 1241.8,640.8 1252.1,641.8 1261.3,639.8 1271.5,641.8 1280.7,640.8 1289.8,642.8 1300.1,635.8 1309.2,632.3 1319.5,635.8 1328.7,633.7 1337.8,632.3 1348.1,639.8 1357.2,643.2 1366.4,632.7 1376.6,627.7 1385.8,623.6 1396.1,621.2 1405.2,618.8 1414.3,626.1 1424.6,626.1 1433.8,625.7"/>
<polyline fill="none" stroke="#f8f800" stroke-width="1.5" stroke-linejoin="round" points="6.9,626.7 16.1,626.7 25.2,620.6 35.5,621.6 44.6,621.6 54.9,620.6 64.0,620.6 73.2,618.6 83.5,617.2 92.6,615.6 102.9,617.6 112.0,618.0 121.2,622.6 131.4,625.3 140.6,626.3 149.7,628.1 160.0,629.3 169.1,629.7 179.4,630.7 188.6,630.1 197.7,630.1 208.0,630.1 217.1,629.7 227.4,631.7 236.5,633.3 245.7,634.1 256.0,634.1 265.1,635.4 274.2,637.4 284.5,638.4 293.7,638.2 303.9,638.4 313.1,639.8 322.2,640.2 332.5,640.2 341.6,641.8 351.9,641.4 361.1,643.2 370.2,641.8 380.5,639.8 389.6,639.4 399.9,638.4 409.0,638.4 418.2,638.4 428.5,638.4 437.6,638.4 446.7,636.8 457.0,635.8 466.2,635.8 476.4,637.8 485.6,639.8 494.7,641.4 505.0,641.8 514.1,641.8 524.4,642.8 533.6,643.2 542.7,645.9 553.0,647.5 562.1,646.9 571.3,640.8 581.5,639.4 590.7,636.8 601.0,636.8 610.1,638.4 619.2,637.8 629.5,635.4 638.7,635.4 648.9,635.4 658.1,635.4 667.2,639.4 677.5,642.2 686.6,642.8 695.8,642.8 706.1,642.8 715.2,643.2 725.5,643.2 734.6,641.8 743.8,641.8 754.0,643.2 763.2,645.9 773.5,646.9 782.6,646.3 791.7,645.9 802.0,643.2 811.2,637.8 820.3,635.8 830.6,633.7 839.7,632.3 850.0,630.7 859.1,629.7 868.3,628.1 878.6,625.1 887.7,626.7 898.0,628.1 907.1,632.7 916.3,633.3 926.5,634.7 935.7,635.8 944.8,636.8 955.1,636.8 964.2,638.8 974.5,641.4 983.7,642.8 992.8,643.8 1003.1,646.3 1012.2,647.9 1022.5,650.5 1031.6,652.5 1040.8,653.3 1051.1,652.5 1060.2,652.5 1070.5,652.9 1079.6,653.3 1088.8,653.9 1099.0,653.3 1108.2,653.9 1117.3,653.9 1127.6,652.5 1136.7,653.3 1147.0,654.9 1156.2,654.9 1165.3,654.3 1195.0,655.9 1204.1,654.9 1213.3,653.9 1223.6,651.9 1232.7,650.9 1241.8,648.9 1252.1,647.5 1261.3,645.9 1271.5,642.8 1280.7,641.8 1289.8,641.8 1300.1,638.4 1309.2,635.8 1319.5,638.4 1328.7,637.4 1337.8,638.4 1348.1,638.4 1357.2,637.4 1366.4,633.7 1376.6,631.7 1385.8,628.7 1396.1,631.3 1405.2,630.7 1414.3,629.7 1424.6,628.1 1433.8,626.1"/>
<line x1="6.9" y1="790.2" x2="6.9" y2="781.7" stroke="#f03030" stroke-width="1.5"/>
<line x1="16.1" y1="790.2" x2="16.1" y2="785.1" stroke="#f03030" stroke-width="1.5"/>
<line x1="25.2" y1="790.2" x2="25.2" y2="799.8" stroke="#40d8d8" stroke-width="1.5"/>
<line x1="35.5" y1="790.2" x2="35.5" y2="814.0" stroke="#40d8d8" stroke-width="1.5"/>
<line x1="44.6" y1="790.2" x2="44.6" y2="815.0" stroke="#40d8d8" stroke-width="1.5"/>
<line x1="54.9" y1="790.2" x2="54.9" y2="819.0" stroke="#40d8d8" stroke-width="1.5"/>
<line x1="64.0" y1="790.2" x2="64.0" y2="816.4" stroke="#40d8d8" stroke-width="1.5"/>
<line x1="73.2" y1="790.2" x2="73.2" y2="810.3" stroke="#40d8d8" stroke-width="1.5"/>
<line x1="83.5" y1="790.2" x2="83.5" y2="805.9" stroke="#40d8d8" stroke-width="1.5"/>
<line x1="92.6" y1="790.2" x2="92.6" y2="805.9" stroke="#40d8d8" stroke-width="1.5"/>
<line x1="102.9" y1="790.2" x2="102.9" y2="804.5" stroke="#40d8d8" stroke-width="1.5"/>
<line x1="112.0" y1="790.2" x2="112.0" y2="801.5" stroke="#40d8d8" stroke-width="1.5"/>
<line x1="131.4" y1="790.2" x2="131.4" y2="781.7" stroke="#f03030" stroke-width="1.5"/>
<line x1="140.6" y1="790.2" x2="140.6" y2="778.6" stroke="#f03030" stroke-width="1.5"/>
<line x1="149.7" y1="790.2" x2="149.7" y2="780.3" stroke="#f03030" stroke-width="1.5"/>
<line x1="160.0" y1="790.2" x2="160.0" y2="787.7" stroke="#f03030" stroke-width="1.5"/>
<line x1="169.1" y1="790.2" x2="169.1" y2="796.8" stroke="#40d8d8" stroke-width="1.5"/>
<line x1="179.4" y1="790.2" x2="179.4" y2="798.4" stroke="#40d8d8" stroke-width="1.5"/>
<line x1="188.6" y1="790.2" x2="188.6" y2="793.8" stroke="#40d8d8" stroke-width="1.5"/>
<line x1="197.7" y1="790.2" x2="197.7" y2="796.8" stroke="#40d8d8" stroke-width="1.5"/>
<line x1="208.0" y1="790.2" x2="208.0" y2="798.4" stroke="#40d8d8" stroke-width="1.5"/>
<line x1="227.4" y1="790.2" x2="227.4" y2="786.3" stroke="#f03030" stroke-width="1.5"/>
<line x1="236.5" y1="790.2" x2="236.5" y2="789.3" stroke="#f03030" stroke-width="1.5"/>
<line x1="245.7" y1="790.2" x2="245.7" y2="789.3" stroke="#f03030" stroke-width="1.5"/>
<line x1="256.0" y1="790.2" x2="256.0" y2="788.1" stroke="#f03030" stroke-width="1.5"/>
<line x1="265.1" y1="790.2" x2="265.1" y2="785.1" stroke="#f03030" stroke-width="1.5"/>
<line x1="274.2" y1="790.2" x2="274.2" y2="783.3" stroke="#f03030" stroke-width="1.5"/>
<line x1="284.5" y1="790.2" x2="284.5" y2="775.6" stroke="#f03030" stroke-width="1.5"/>
<line x1="293.7" y1="790.2" x2="293.7" y2="768.1" stroke="#f03030" stroke-width="1.5"/>
<line x1="303.9" y1="790.2" x2="303.9" y2="763.9" stroke="#f03030" stroke-width="1.5"/>
<line x1="313.1" y1="790.2" x2="313.1" y2="760.9" stroke="#f03030" stroke-width="1.5"/>
<line x1="322.2" y1="790.2" x2="322.2" y2="760.9" stroke="#f03030" stroke-width="1.5"/>
<line x1="332.5" y1="790.2" x2="332.5" y2="760.9" stroke="#f03030" stroke-width="1.5"/>
<line x1="341.6" y1="790.2" x2="341.6" y2="759.1" stroke="#f03030" stroke-width="1.5"/>
<line x1="351.9" y1="790.2" x2="351.9" y2="763.9" stroke="#f03030" stroke-width="1.5"/>
<line x1="361.1" y1="790.2" x2="361.1" y2="768.1" stroke="#f03030" stroke-width="1.5"/>
<line x1="370.2" y1="790.2" x2="370.2" y2="768.1" stroke="#f03030" stroke-width="1.5"/>
<line x1="380.5" y1="790.2" x2="380.5" y2="765.5" stroke="#f03030" stroke-width="1.5"/>
<line x1="389.6" y1="790.2" x2="389.6" y2="765.5" stroke="#f03030" stroke-width="1.5"/>
<line x1="399.9" y1="790.2" x2="399.9" y2="773.0" stroke="#f03030" stroke-width="1.5"/>
<line x1="409.0" y1="790.2" x2="409.0" y2="780.3" stroke="#f03030" stroke-width="1.5"/>
<line x1="418.2" y1="790.2" x2="418.2" y2="786.7" stroke="#f03030" stroke-width="1.5"/>
<line x1="428.5" y1="790.2" x2="428.5" y2="792.4" stroke="#40d8d8" stroke-width="1.5"/>
<line x1="437.6" y1="790.2" x2="437.6" y2="798.2" stroke="#40d8d8" stroke-width="1.5"/>
<line x1="446.7" y1="790.2" x2="446.7" y2="812.0" stroke="#40d8d8" stroke-width="1.5"/>
<line x1="457.0" y1="790.2" x2="457.0" y2="812.0" stroke="#40d8d8" stroke-width="1.5"/>
<line x1="466.2" y1="790.2" x2="466.2" y2="813.4" stroke="#40d8d8" stroke-width="1.5"/>
<line x1="476.4" y1="790.2" x2="476.4" y2="810.3" stroke="#40d8d8" stroke-width="1.5"/>
<line x1="485.6" y1="790.2" x2="485.6" y2="804.3" stroke="#40d8d8" stroke-width="1.5"/>
<line x1="494.7" y1="790.2" x2="494.7" y2="799.8" stroke="#40d8d8" stroke-width="1.5"/>
<line x1="505.0" y1="790.2" x2="505.0" y2="796.8" stroke="#40d8d8" stroke-width="1.5"/>
<line x1="514.1" y1="790.2" x2="514.1" y2="799.8" stroke="#40d8d8" stroke-width="1.5"/>
<line x1="524.4" y1="790.2" x2="524.4" y2="804.3" stroke="#40d8d8" stroke-width="1.5"/>
<line x1="533.6" y1="790.2" x2="533.6" y2="801.3" stroke="#40d8d8" stroke-width="1.5"/>
<line x1="542.7" y1="790.2" x2="542.7" y2="802.9" stroke="#40d8d8" stroke-width="1.5"/>
<line x1="553.0" y1="790.2" x2="553.0" y2="802.9" stroke="#40d8d8" stroke-width="1.5"/>
<line x1="562.1" y1="790.2" x2="562.1" y2="805.9" stroke="#40d8d8" stroke-width="1.5"/>
<line x1="571.3" y1="790.2" x2="571.3" y2="820.6" stroke="#40d8d8" stroke-width="1.5"/>
<line x1="581.5" y1="790.2" x2="581.5" y2="828.1" stroke="#40d8d8" stroke-width="1.5"/>
<line x1="590.7" y1="790.2" x2="590.7" y2="835.8" stroke="#40d8d8" stroke-width="1.5"/>
<line x1="601.0" y1="790.2" x2="601.0" y2="834.2" stroke="#40d8d8" stroke-width="1.5"/>
<line x1="610.1" y1="790.2" x2="610.1" y2="835.8" stroke="#40d8d8" stroke-width="1.5"/>
<line x1="619.2" y1="790.2" x2="619.2" y2="834.2" stroke="#40d8d8" stroke-width="1.5"/>
<line x1="629.5" y1="790.2" x2="629.5" y2="835.8" stroke="#40d8d8" stroke-width="1.5"/>
<line x1="638.7" y1="790.2" x2="638.7" y2="835.8" stroke="#40d8d8" stroke-width="1.5"/>
<line x1="648.9" y1="790.2" x2="648.9" y2="823.7" stroke="#40d8d8" stroke-width="1.5"/>
<line x1="658.1" y1="790.2" x2="658.1" y2="823.7" stroke="#40d8d8" stroke-width="1.5"/>
<line x1="667.2" y1="790.2" x2="667.2" y2="819.0" stroke="#40d8d8" stroke-width="1.5"/>
<line x1="677.5" y1="790.2" x2="677.5" y2="816.4" stroke="#40d8d8" stroke-width="1.5"/>
<line x1="686.6" y1="790.2" x2="686.6" y2="816.4" stroke="#40d8d8" stroke-width="1.5"/>
<line x1="695.8" y1="790.2" x2="695.8" y2="810.3" stroke="#40d8d8" stroke-width="1.5"/>
<line x1="706.1" y1="790.2" x2="706.1" y2="795.2" stroke="#40d8d8" stroke-width="1.5"/>
<line x1="715.2" y1="790.2" x2="715.2" y2="783.7" stroke="#f03030" stroke-width="1.5"/>
<line x1="725.5" y1="790.2" x2="725.5" y2="782.3" stroke="#f03030" stroke-width="1.5"/>
<line x1="734.6" y1="790.2" x2="734.6" y2="771.6" stroke="#f03030" stroke-width="1.5"/>
<line x1="743.8" y1="790.2" x2="743.8" y2="763.9" stroke="#f03030" stroke-width="1.5"/>
<line x1="754.0" y1="790.2" x2="754.0" y2="762.5" stroke="#f03030" stroke-width="1.5"/>
<line x1="763.2" y1="790.2" x2="763.2" y2="763.9" stroke="#f03030" stroke-width="1.5"/>
<line x1="773.5" y1="790.2" x2="773.5" y2="766.9" stroke="#f03030" stroke-width="1.5"/>
<line x1="782.6" y1="790.2" x2="782.6" y2="770.0" stroke="#f03030" stroke-width="1.5"/>
<line x1="791.7" y1="790.2" x2="791.7" y2="765.5" stroke="#f03030" stroke-width="1.5"/>
<line x1="802.0" y1="790.2" x2="802.0" y2="758.1" stroke="#f03030" stroke-width="1.5"/>
<line x1="811.2" y1="790.2" x2="811.2" y2="747.4" stroke="#f03030" stroke-width="1.5"/>
<line x1="820.3" y1="790.2" x2="820.3" y2="742.9" stroke="#f03030" stroke-width="1.5"/>
<line x1="830.6" y1="790.2" x2="830.6" y2="744.3" stroke="#f03030" stroke-width="1.5"/>
<line x1="839.7" y1="790.2" x2="839.7" y2="749.0" stroke="#f03030" stroke-width="1.5"/>
<line x1="850.0" y1="790.2" x2="850.0" y2="753.4" stroke="#f03030" stroke-width="1.5"/>
<line x1="859.1" y1="790.2" x2="859.1" y2="756.4" stroke="#f03030" stroke-width="1.5"/>
<line x1="868.3" y1="790.2" x2="868.3" y2="766.9" stroke="#f03030" stroke-width="1.5"/>
<line x1="878.6" y1="790.2" x2="878.6" y2="782.3" stroke="#f03030" stroke-width="1.5"/>
<line x1="887.7" y1="790.2" x2="887.7" y2="793.8" stroke="#40d8d8" stroke-width="1.5"/>
<line x1="898.0" y1="790.2" x2="898.0" y2="807.5" stroke="#40d8d8" stroke-width="1.5"/>
<line x1="907.1" y1="790.2" x2="907.1" y2="802.9" stroke="#40d8d8" stroke-width="1.5"/>
<line x1="916.3" y1="790.2" x2="916.3" y2="804.3" stroke="#40d8d8" stroke-width="1.5"/>
<line x1="926.5" y1="790.2" x2="926.5" y2="796.8" stroke="#40d8d8" stroke-width="1.5"/>
<line x1="935.7" y1="790.2" x2="935.7" y2="792.4" stroke="#40d8d8" stroke-width="1.5"/>
<line x1="964.2" y1="790.2" x2="964.2" y2="793.8" stroke="#40d8d8" stroke-width="1.5"/>
<line x1="974.5" y1="790.2" x2="974.5" y2="799.8" stroke="#40d8d8" stroke-width="1.5"/>
<line x1="983.7" y1="790.2" x2="983.7" y2="807.5" stroke="#40d8d8" stroke-width="1.5"/>
<line x1="992.8" y1="790.2" x2="992.8" y2="805.9" stroke="#40d8d8" stroke-width="1.5"/>
<line x1="1003.1" y1="790.2" x2="1003.1" y2="799.8" stroke="#40d8d8" stroke-width="1.5"/>
<line x1="1012.2" y1="790.2" x2="1012.2" y2="796.8" stroke="#40d8d8" stroke-width="1.5"/>
<line x1="1022.5" y1="790.2" x2="1022.5" y2="792.4" stroke="#40d8d8" stroke-width="1.5"/>
<line x1="1040.8" y1="790.2" x2="1040.8" y2="780.7" stroke="#f03030" stroke-width="1.5"/>
<line x1="1051.1" y1="790.2" x2="1051.1" y2="774.6" stroke="#f03030" stroke-width="1.5"/>
<line x1="1060.2" y1="790.2" x2="1060.2" y2="771.6" stroke="#f03030" stroke-width="1.5"/>
<line x1="1070.5" y1="790.2" x2="1070.5" y2="776.0" stroke="#f03030" stroke-width="1.5"/>
<line x1="1079.6" y1="790.2" x2="1079.6" y2="779.3" stroke="#f03030" stroke-width="1.5"/>
<line x1="1088.8" y1="790.2" x2="1088.8" y2="783.7" stroke="#f03030" stroke-width="1.5"/>
<line x1="1099.0" y1="790.2" x2="1099.0" y2="780.7" stroke="#f03030" stroke-width="1.5"/>
<line x1="1108.2" y1="790.2" x2="1108.2" y2="786.7" stroke="#f03030" stroke-width="1.5"/>
<line x1="1136.7" y1="790.2" x2="1136.7" y2="795.2" stroke="#40d8d8" stroke-width="1.5"/>
<line x1="1147.0" y1="790.2" x2="1147.0" y2="798.2" stroke="#40d8d8" stroke-width="1.5"/>
<line x1="1156.2" y1="790.2" x2="1156.2" y2="799.8" stroke="#40d8d8" stroke-width="1.5"/>
<line x1="1165.3" y1="790.2" x2="1165.3" y2="796.8" stroke="#40d8d8" stroke-width="1.5"/>
<line x1="1175.6" y1="790.2" x2="1175.6" y2="794.8" stroke="#40d8d8" stroke-width="1.5"/>
<line x1="1184.7" y1="790.2" x2="1184.7" y2="795.8" stroke="#40d8d8" stroke-width="1.5"/>
<line x1="1204.1" y1="790.2" x2="1204.1" y2="782.3" stroke="#f03030" stroke-width="1.5"/>
<line x1="1213.3" y1="790.2" x2="1213.3" y2="777.6" stroke="#f03030" stroke-width="1.5"/>
<line x1="1223.6" y1="790.2" x2="1223.6" y2="765.5" stroke="#f03030" stroke-width="1.5"/>
<line x1="1232.7" y1="790.2" x2="1232.7" y2="761.1" stroke="#f03030" stroke-width="1.5"/>
<line x1="1241.8" y1="790.2" x2="1241.8" y2="756.4" stroke="#f03030" stroke-width="1.5"/>
<line x1="1252.1" y1="790.2" x2="1252.1" y2="756.4" stroke="#f03030" stroke-width="1.5"/>
<line x1="1261.3" y1="790.2" x2="1261.3" y2="755.0" stroke="#f03030" stroke-width="1.5"/>
<line x1="1271.5" y1="790.2" x2="1271.5" y2="768.6" stroke="#f03030" stroke-width="1.5"/>
<line x1="1280.7" y1="790.2" x2="1280.7" y2="779.3" stroke="#f03030" stroke-width="1.5"/>
<line x1="1289.8" y1="790.2" x2="1289.8" y2="785.3" stroke="#f03030" stroke-width="1.5"/>
<line x1="1300.1" y1="790.2" x2="1300.1" y2="807.5" stroke="#40d8d8" stroke-width="1.5"/>
<line x1="1309.2" y1="790.2" x2="1309.2" y2="818.0" stroke="#40d8d8" stroke-width="1.5"/>
<line x1="1319.5" y1="790.2" x2="1319.5" y2="828.1" stroke="#40d8d8" stroke-width="1.5"/>
<line x1="1328.7" y1="790.2" x2="1328.7" y2="835.8" stroke="#40d8d8" stroke-width="1.5"/>
<line x1="1337.8" y1="790.2" x2="1337.8" y2="835.8" stroke="#40d8d8" stroke-width="1.5"/>
<line x1="1348.1" y1="790.2" x2="1348.1" y2="844.9" stroke="#40d8d8" stroke-width="1.5"/>
<line x1="1357.2" y1="790.2" x2="1357.2" y2="835.8" stroke="#40d8d8" stroke-width="1.5"/>
<line x1="1366.4" y1="790.2" x2="1366.4" y2="813.4" stroke="#40d8d8" stroke-width="1.5"/>
<line x1="1376.6" y1="790.2" x2="1376.6" y2="805.9" stroke="#40d8d8" stroke-width="1.5"/>
<line x1="1385.8" y1="790.2" x2="1385.8" y2="798.2" stroke="#40d8d8" stroke-width="1.5"/>
<line x1="1396.1" y1="790.2" x2="1396.1" y2="791.8" stroke="#40d8d8" stroke-width="1.5"/>
<line x1="1414.3" y1="790.2" x2="1414.3" y2="793.2" stroke="#40d8d8" stroke-width="1.5"/>
<line x1="1424.6" y1="790.2" x2="1424.6" y2="792.4" stroke="#40d8d8" stroke-width="1.5"/>
<line x1="1433.8" y1="790.2" x2="1433.8" y2="788.3" stroke="#f03030" stroke-width="1.5"/>
<polyline fill="none" stroke="#f0f0f0" stroke-width="1.2" stroke-linejoin="round" points="6.9,806.5 16.1,806.9 25.2,818.0 35.5,826.1 44.6,831.1 54.9,836.2 64.0,838.2 73.2,836.6 83.5,836.6 92.6,838.2 102.9,839.8 112.0,839.2 121.2,833.2 131.4,828.1 140.6,824.7 149.7,824.7 160.0,827.1 169.1,832.8 179.4,835.2 188.6,833.2 197.7,836.2 208.0,838.2 217.1,833.2 227.4,830.5 236.5,831.7 245.7,831.1 256.0,830.7 265.1,827.1 274.2,824.7 284.5,820.0 293.7,813.0 303.9,806.9 313.1,801.9 322.2,798.2 332.5,793.8 341.6,789.7 351.9,787.7 361.1,787.7 370.2,784.7 380.5,780.7 389.6,777.6 399.9,779.3 409.0,780.7 418.2,785.7 428.5,788.1 437.6,791.8 446.7,801.3 457.0,804.9 466.2,807.9 476.4,809.9 485.6,807.5 494.7,806.5 505.0,806.5 514.1,809.9 524.4,812.6 533.6,813.0 542.7,816.0 553.0,817.0 562.1,819.6 571.3,831.1 581.5,839.2 590.7,849.3 601.0,853.8 610.1,860.4 619.2,866.5 629.5,871.5 638.7,877.0 648.9,875.6 658.1,880.0 667.2,881.6 677.5,883.0 686.6,885.7 695.8,885.7 706.1,878.6 715.2,872.1 725.5,869.5 734.6,861.4 743.8,854.4 754.0,850.3 763.2,847.3 773.5,845.7 782.6,845.7 791.7,839.2 802.0,832.1 811.2,821.0 820.3,812.0 830.6,806.5 839.7,803.3 850.0,800.9 859.1,798.4 868.3,800.2 878.6,805.9 887.7,814.0 898.0,823.1 907.1,823.1 916.3,824.7 926.5,823.1 935.7,820.0 944.8,819.0 955.1,817.0 964.2,821.0 974.5,824.7 983.7,830.5 992.8,832.1 1003.1,830.5 1012.2,830.5 1022.5,829.1 1031.6,826.1 1040.8,819.0 1051.1,814.0 1060.2,810.3 1070.5,810.3 1079.6,810.3 1088.8,810.3 1099.0,808.9 1108.2,810.3 1117.3,814.0 1127.6,814.6 1136.7,817.6 1147.0,820.0 1156.2,821.6 1165.3,821.6 1195.0,817.0 1204.1,812.0 1213.3,808.9 1223.6,798.8 1232.7,792.4 1241.8,787.7 1252.1,782.7 1261.3,776.2 1271.5,780.7 1280.7,783.7 1289.8,786.7 1300.1,798.8 1309.2,810.9 1319.5,820.0 1328.7,828.1 1337.8,833.2 1348.1,843.3 1357.2,847.7 1366.4,838.2 1376.6,836.2 1385.8,834.2 1396.1,831.7 1405.2,829.1 1414.3,831.7 1424.6,831.7 1433.8,827.1"/>
<polyline fill="none" stroke="#f4f400" stroke-width="1.45" stroke-linejoin="round" points="6.9,810.9 16.1,810.3 25.2,812.0 35.5,814.6 44.6,818.0 54.9,821.6 64.0,825.1 73.2,827.7 83.5,829.5 92.6,831.1 102.9,832.8 112.0,833.8 121.2,833.8 131.4,832.8 140.6,830.7 149.7,830.1 160.0,829.1 169.1,830.5 179.4,831.1 188.6,831.7 197.7,832.6 208.0,833.6 217.1,833.6 227.4,833.2 236.5,832.6 245.7,832.1 256.0,831.7 265.1,831.1 274.2,830.1 284.5,828.1 293.7,825.5 303.9,822.1 313.1,818.0 322.2,814.0 332.5,810.9 341.6,806.5 351.9,802.9 361.1,800.2 370.2,797.8 380.5,794.8 389.6,790.8 399.9,787.7 409.0,786.7 418.2,786.7 428.5,786.7 437.6,788.1 446.7,790.8 457.0,792.8 466.2,795.8 476.4,798.2 485.6,801.3 494.7,802.5 505.0,802.5 514.1,804.3 524.4,806.5 533.6,806.9 542.7,808.9 553.0,810.9 562.1,813.0 571.3,817.0 581.5,822.5 590.7,827.1 601.0,832.1 610.1,837.2 619.2,843.3 629.5,848.3 638.7,854.4 648.9,859.4 658.1,863.4 667.2,866.5 677.5,869.5 686.6,873.5 695.8,876.0 706.1,877.2 715.2,876.0 725.5,873.9 734.6,870.9 743.8,867.5 754.0,864.5 763.2,861.4 773.5,858.4 782.6,855.4 791.7,852.7 802.0,848.9 811.2,842.2 820.3,836.2 830.6,831.1 839.7,825.1 850.0,820.6 859.1,816.0 868.3,813.0 878.6,813.0 887.7,813.0 898.0,814.6 907.1,816.0 916.3,818.6 926.5,819.0 935.7,819.0 944.8,818.6 955.1,818.6 964.2,819.0 974.5,820.6 983.7,823.1 992.8,824.7 1003.1,826.1 1012.2,826.1 1022.5,827.1 1031.6,827.1 1040.8,826.1 1051.1,823.1 1060.2,820.6 1070.5,818.6 1079.6,817.0 1088.8,815.6 1099.0,815.6 1108.2,814.0 1117.3,814.0 1127.6,814.0 1136.7,814.6 1147.0,815.6 1156.2,817.0 1165.3,818.6 1195.0,819.0 1204.1,817.0 1213.3,815.6 1223.6,813.0 1232.7,808.9 1241.8,804.3 1252.1,799.8 1261.3,794.8 1271.5,792.4 1280.7,791.4 1289.8,790.2 1300.1,791.4 1309.2,795.8 1319.5,801.3 1328.7,806.5 1337.8,810.9 1348.1,817.0 1357.2,824.1 1366.4,827.1 1376.6,829.1 1385.8,830.5 1396.1,831.1 1405.2,830.5 1414.3,831.1 1424.6,831.1 1433.8,830.5"/>
<rect x="2" y="535.5" width="1486" height="2" fill="#c00000"/>
<rect x="2" y="710.9" width="1486" height="2.2" fill="#8e0000"/>
<rect x="1467.0" y="8.6" width="2.4" height="702.4" fill="#ac0000"/>
<rect x="1467.2" y="711" width="18.799999999999955" height="2.2" fill="#b80000"/>
<rect x="1467.2" y="712" width="3.8" height="176" fill="#b80000"/>
<rect x="1467.2" y="886.4" width="19" height="1.8" fill="#b80000"/>
<rect x="1469" y="46.5" width="7.5" height="1.4" fill="#ac0000"/>
<rect x="1469" y="73.70000000000002" width="3.2" height="1.2" fill="#ac0000"/>
<rect x="1469" y="100.5" width="7.5" height="1.4" fill="#ac0000"/>
<rect x="1469" y="127.70000000000002" width="3.2" height="1.2" fill="#ac0000"/>
<rect x="1469" y="154.60000000000002" width="7.5" height="1.4" fill="#ac0000"/>
<rect x="1469" y="181.8" width="3.2" height="1.2" fill="#ac0000"/>
<rect x="1469" y="210.10000000000002" width="7.5" height="1.4" fill="#ac0000"/>
<rect x="1469" y="237.3" width="3.2" height="1.2" fill="#ac0000"/>
<rect x="1469" y="264.1" width="7.5" height="1.4" fill="#ac0000"/>
<rect x="1469" y="291.3" width="3.2" height="1.2" fill="#ac0000"/>
<rect x="1469" y="318.1" width="7.5" height="1.4" fill="#ac0000"/>
<rect x="1469" y="345.3" width="3.2" height="1.2" fill="#ac0000"/>
<rect x="1469" y="372.2" width="7.5" height="1.4" fill="#ac0000"/>
<rect x="1469" y="399.4" width="3.2" height="1.2" fill="#ac0000"/>
<rect x="1469" y="426.3" width="7.5" height="1.4" fill="#ac0000"/>
<rect x="1469" y="453.5" width="3.2" height="1.2" fill="#ac0000"/>
<rect x="1469" y="480.3" width="7.5" height="1.4" fill="#ac0000"/>
<rect x="1469" y="604.8" width="7.5" height="1.4" fill="#ac0000"/>
<rect x="1469" y="631.5999999999999" width="3.2" height="1.4" fill="#ac0000"/>
<rect x="1469" y="657.3" width="7.5" height="1.4" fill="#ac0000"/>
<rect x="1471" y="736.5999999999999" width="6" height="1.4" fill="#ac0000"/>
<rect x="1471" y="763.3" width="3" height="1.4" fill="#ac0000"/>
<rect x="1471" y="789.5" width="6" height="1.4" fill="#ac0000"/>
<rect x="1469" y="688.6" width="18" height="2" fill="#ac0000"/>
<path d="M1472.3 693.3 L1482.4 707 M1482.4 693.3 L1472.3 707 M1484.3 696.5 L1486.5 694" fill="none" stroke="#d03030" stroke-width="1.5"/>
<path d="M1435.3 15.5 L1443.3 23.3 L1435.3 31.2 L1427.3 23.3 Z" fill="none" stroke="#ac0000" stroke-width="1.3"/>
<rect x="1450" y="15.6" width="14" height="15.4" fill="none" stroke="#ac0000" stroke-width="1.4"/>
<line x1="1459.3" y1="15.6" x2="1459.3" y2="31" stroke="#ac0000" stroke-width="1.4"/>
<rect x="1422.6" y="36" width="4.6" height="3" fill="#ff00ff"/><rect x="1431.6" y="36" width="4.6" height="3" fill="#ff00ff"/>
<path d="M64.10000000000001 159.3 h1.6 l7.2 9 h-4.75 v8.1 h-6.5 v-8.1 h-4.75 z" fill="#ff0000"/>
<path d="M188.7 163.4 h1.6 l7.2 9 h-4.75 v8.1 h-6.5 v-8.1 h-4.75 z" fill="#ff0000"/>
<path d="M217.1 173.9 h1.6 l7.2 9 h-4.75 v8.1 h-6.5 v-8.1 h-4.75 z" fill="#ff0000"/>
<path d="M476.59999999999997 170.1 h1.6 l7.2 9 h-4.75 v8.1 h-6.5 v-8.1 h-4.75 z" fill="#ff0000"/>
<path d="M534.0 192.4 h1.6 l7.2 9 h-4.75 v8.1 h-6.5 v-8.1 h-4.75 z" fill="#ff0000"/>
<path d="M649.1 329.3 h1.6 l7.2 9 h-4.75 v8.1 h-6.5 v-8.1 h-4.75 z" fill="#ff0000"/>
<path d="M677.7 344.6 h1.6 l7.2 9 h-4.75 v8.1 h-6.5 v-8.1 h-4.75 z" fill="#ff0000"/>
<path d="M706.4000000000001 346.0 h1.6 l7.2 9 h-4.75 v8.1 h-6.5 v-8.1 h-4.75 z" fill="#ff0000"/>
<path d="M907.2 377.6 h1.6 l7.2 9 h-4.75 v8.1 h-6.5 v-8.1 h-4.75 z" fill="#ff0000"/>
<path d="M1003.9000000000001 376.0 h1.6 l7.2 9 h-4.75 v8.1 h-6.5 v-8.1 h-4.75 z" fill="#ff0000"/>
<path d="M1127.7 384.0 h1.6 l7.2 9 h-4.75 v8.1 h-6.5 v-8.1 h-4.75 z" fill="#ff0000"/>
<path d="M1165.0 401.2 h1.6 l7.2 9 h-4.75 v8.1 h-6.5 v-8.1 h-4.75 z" fill="#ff0000"/>
<path d="M1195.4 404.3 h1.6 l7.2 9 h-4.75 v8.1 h-6.5 v-8.1 h-4.75 z" fill="#ff0000"/>
<path d="M196.7 13.3 h1.6 l7.2 9 h-4.75 v8.1 h-6.5 v-8.1 h-4.75 z" fill="#ff0000"/>
<path d="M350.7 86.3 h4.6 v8 h4.7 l-7 7.2 l-7 -7.2 h4.7 z" fill="none" stroke="#00e400" stroke-width="1.5"/>
<path d="M398.7 78.89999999999999 h4.6 v8 h4.7 l-7 7.2 l-7 -7.2 h4.7 z" fill="none" stroke="#00e400" stroke-width="1.5"/>
<path d="M838.2 249.60000000000002 h4.6 v8 h4.7 l-7 7.2 l-7 -7.2 h4.7 z" fill="none" stroke="#00e400" stroke-width="1.5"/>
<path d="M1269.9 314.8 h4.6 v8 h4.7 l-7 7.2 l-7 -7.2 h4.7 z" fill="none" stroke="#00e400" stroke-width="1.5"/>
<path d="M1358 511.4 l6.1 6.7 h-12.2 z" fill="#ff0000"/>
<path d="M2 447.3 L14.2 463.5 L14.2 507.4 L2 526.4 Z" fill="url(#wg)" stroke="#6a6a6a" stroke-width="1.2"/>
<path d="M3.4 478.8 L11 486 L3.4 493.2 Z" fill="#e8a000"/>
<filter id="nf" x="0" y="0" width="100%" height="100%" filterUnits="userSpaceOnUse"><feOffset dx="0" dy="0"/></filter><g filter="url(#nf)">
<text x="2.3" y="29.2" font-size="18.5" fill="#d4d4d4" font-family="'Liberation Sans', 'Noto Sans CJK SC', sans-serif" textLength="73.5" lengthAdjust="spacingAndGlyphs">上证指数</text>
<text x="79.4" y="29.2" font-size="18.5" fill="#d4d4d4" font-family="'Liberation Sans', 'Noto Sans CJK SC', sans-serif" textLength="38.3" lengthAdjust="spacingAndGlyphs">日线</text>
<text x="120.9" y="29.2" font-size="18.5" fill="#d4d4d4" font-family="'Liberation Sans', 'Noto Sans CJK SC', sans-serif" textLength="56" lengthAdjust="spacingAndGlyphs">前复权</text>
<text x="76.42" y="29.2" font-size="19.0" fill="#ececec" textLength="5.28" lengthAdjust="spacingAndGlyphs" stroke="#000" stroke-width="0.32">(</text>
<text x="116.28" y="29.2" font-size="19.0" fill="#ececec" textLength="5.84" lengthAdjust="spacingAndGlyphs" stroke="#000" stroke-width="0.32">.</text>
<text x="177.21" y="29.2" font-size="19.0" fill="#ececec" textLength="5.28" lengthAdjust="spacingAndGlyphs" stroke="#000" stroke-width="0.32">)</text>
<text x="210.52" y="28.7" font-size="19.0" fill="#ffffff" textLength="39.21" lengthAdjust="spacingAndGlyphs" stroke="#000" stroke-width="0.32">MA5:</text>
<text x="254.17" y="28.7" font-size="19.0" fill="#ffffff" textLength="66.96" lengthAdjust="spacingAndGlyphs" stroke="#000" stroke-width="0.32">2583.12</text>
<text x="328.92" y="28.7" font-size="19.0" fill="#ffff00" textLength="52.02" lengthAdjust="spacingAndGlyphs" stroke="#000" stroke-width="0.32">MA10:</text>
<text x="383.88" y="28.7" font-size="19.0" fill="#ffff00" textLength="65.98" lengthAdjust="spacingAndGlyphs" stroke="#000" stroke-width="0.32">2580.55</text>
<text x="457.84" y="28.7" font-size="19.0" fill="#ff00ff" textLength="51.38" lengthAdjust="spacingAndGlyphs" stroke="#000" stroke-width="0.32">MA20:</text>
<text x="512.27" y="28.7" font-size="19.0" fill="#ff00ff" textLength="66.65" lengthAdjust="spacingAndGlyphs" stroke="#000" stroke-width="0.32">2622.42</text>
<text x="586.73" y="28.7" font-size="19.0" fill="#00f000" textLength="61.91" lengthAdjust="spacingAndGlyphs" stroke="#000" stroke-width="0.32">MA250:</text>
<text x="652.41" y="28.7" font-size="19.0" fill="#00f000" textLength="65.91" lengthAdjust="spacingAndGlyphs" stroke="#000" stroke-width="0.32">3079.72</text>
<text x="2.32" y="555.3" font-size="19.0" fill="#ececec" textLength="78.37" lengthAdjust="spacingAndGlyphs" stroke="#000" stroke-width="0.32">VOLUME:</text>
<text x="84.38" y="555.3" font-size="19.0" fill="#ececec" textLength="118.84" lengthAdjust="spacingAndGlyphs" stroke="#000" stroke-width="0.32">180550352.00</text>
<text x="212.24" y="555.3" font-size="19.0" fill="#ffffff" textLength="38.56" lengthAdjust="spacingAndGlyphs" stroke="#000" stroke-width="0.32">MA5:</text>
<text x="255.88" y="555.3" font-size="19.0" fill="#ffffff" textLength="119.15" lengthAdjust="spacingAndGlyphs" stroke="#000" stroke-width="0.32">160488736.00</text>
<text x="382.63" y="555.3" font-size="19.0" fill="#ffff00" textLength="51.91" lengthAdjust="spacingAndGlyphs" stroke="#000" stroke-width="0.32">MA10:</text>
<text x="437.18" y="555.3" font-size="19.0" fill="#ffff00" textLength="119.25" lengthAdjust="spacingAndGlyphs" stroke="#000" stroke-width="0.32">162548816.00</text>
<text x="1.63" y="730.7" font-size="19.0" fill="#ececec" textLength="124.69" lengthAdjust="spacingAndGlyphs" stroke="#000" stroke-width="0.32">MACD(12,26,9)</text>
<text x="133.42" y="730.7" font-size="19.0" fill="#ececec" textLength="34.02" lengthAdjust="spacingAndGlyphs" stroke="#000" stroke-width="0.32">DIF:</text>
<text x="169.96" y="730.7" font-size="19.0" fill="#ececec" textLength="53.89" lengthAdjust="spacingAndGlyphs" stroke="#000" stroke-width="0.32">-35.30</text>
<text x="231.78" y="730.7" font-size="19.0" fill="#ffff00" textLength="40.29" lengthAdjust="spacingAndGlyphs" stroke="#000" stroke-width="0.32">DEA:</text>
<text x="277.40" y="730.7" font-size="19.0" fill="#ffff00" textLength="50.75" lengthAdjust="spacingAndGlyphs" stroke="#000" stroke-width="0.32">-37.35</text>
<text x="336.43" y="730.7" font-size="19.0" fill="#ff00ff" textLength="54.01" lengthAdjust="spacingAndGlyphs" stroke="#000" stroke-width="0.32">MACD:</text>
<text x="398.00" y="730.7" font-size="19.0" fill="#ff00ff" textLength="34.13" lengthAdjust="spacingAndGlyphs" stroke="#000" stroke-width="0.32">4.09</text>
<text x="28.53" y="53.9" font-size="19.0" fill="#d2d2d2" textLength="63.53" lengthAdjust="spacingAndGlyphs" stroke="#000" stroke-width="0.32">3314.21</text>
<text x="1260.98" y="518.0" font-size="19.0" fill="#d2d2d2" textLength="66.24" lengthAdjust="spacingAndGlyphs" stroke="#000" stroke-width="0.32">2449.20</text>
<text x="1295.27" y="365.9" font-size="19.0" fill="#d2d2d2" textLength="66.95" lengthAdjust="spacingAndGlyphs" stroke="#000" stroke-width="0.32">2703.06</text>
<text x="1366.64" y="365.9" font-size="19.0" fill="#d2d2d2" textLength="6.41" lengthAdjust="spacingAndGlyphs" stroke="#000" stroke-width="0.32">-</text>
<text x="1378.00" y="365.9" font-size="19.0" fill="#d2d2d2" textLength="64.36" lengthAdjust="spacingAndGlyphs" stroke="#000" stroke-width="0.32">2675.41</text>
<path d="M6.8 43 V39 L8 38 H12.5 M7.6 40.8 H12.5 L17 42.6 L21 44.2 L24.3 45.8" fill="none" stroke="#ececec" stroke-width="1.2"/>
<path d="M1327 509.7 H1354.6 M1346.3 506.2 L1355 509.7 L1346.3 514.2" fill="none" stroke="#d0d0d0" stroke-width="1.3"/>
</g>
</svg>
</body></html>
